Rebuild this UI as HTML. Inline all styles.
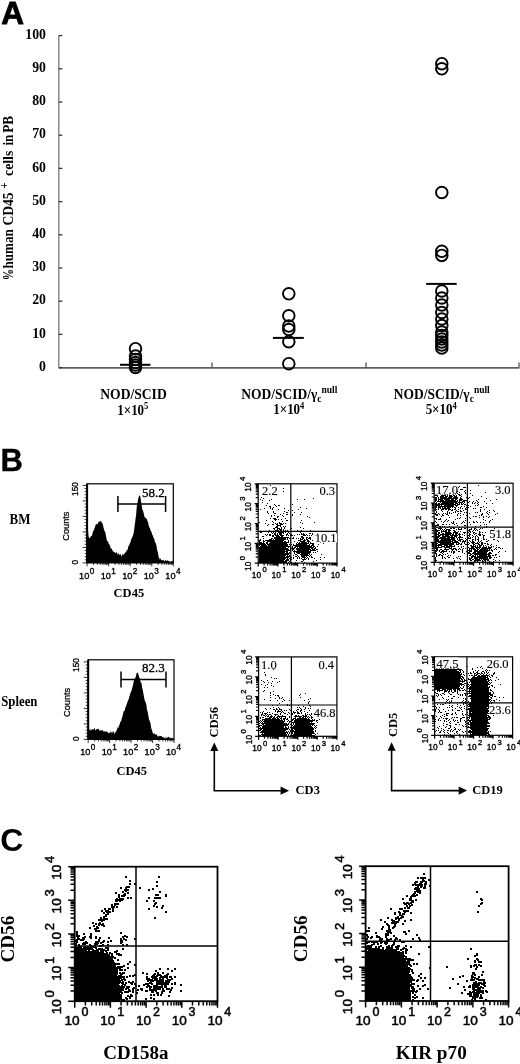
<!DOCTYPE html>
<html><head><meta charset="utf-8"><title>Figure</title>
<style>html,body{margin:0;padding:0;background:#fff;}svg{display:block;}</style></head>
<body><svg width="520" height="1064" viewBox="0 0 520 1064">
<defs><filter id="bl" x="0" y="0" width="1" height="1"><feGaussianBlur stdDeviation="0.4"/></filter></defs>
<rect width="520" height="1064" fill="#fff"/>
<g filter="url(#bl)">
<rect width="520" height="1064" fill="#fff"/>
<text x="1.2" y="24.2" font-family="Liberation Sans" font-size="31.5" font-weight="bold" stroke="#000" stroke-width="0.8" stroke-linejoin="round">A</text>
<line x1="58.8" y1="35.6" x2="58.8" y2="367.6" stroke="#777" stroke-width="1.3"/>
<line x1="58.8" y1="367.90000000000003" x2="519.5" y2="367.90000000000003" stroke="#606060" stroke-width="1.6"/>
<line x1="58.8" y1="367.6" x2="62.3" y2="367.6" stroke="#333" stroke-width="1.3"/>
<text transform="translate(46 370.8) scale(1.0 1.1)" font-family="Liberation Serif" font-size="13.8" font-weight="bold" text-anchor="end" >0</text>
<line x1="58.8" y1="334.4" x2="62.3" y2="334.4" stroke="#333" stroke-width="1.3"/>
<text transform="translate(46 337.6) scale(1.0 1.1)" font-family="Liberation Serif" font-size="13.8" font-weight="bold" text-anchor="end" >10</text>
<line x1="58.8" y1="301.2" x2="62.3" y2="301.2" stroke="#333" stroke-width="1.3"/>
<text transform="translate(46 304.4) scale(1.0 1.1)" font-family="Liberation Serif" font-size="13.8" font-weight="bold" text-anchor="end" >20</text>
<line x1="58.8" y1="268" x2="62.3" y2="268" stroke="#333" stroke-width="1.3"/>
<text transform="translate(46 271.2) scale(1.0 1.1)" font-family="Liberation Serif" font-size="13.8" font-weight="bold" text-anchor="end" >30</text>
<line x1="58.8" y1="234.8" x2="62.3" y2="234.8" stroke="#333" stroke-width="1.3"/>
<text transform="translate(46 238) scale(1.0 1.1)" font-family="Liberation Serif" font-size="13.8" font-weight="bold" text-anchor="end" >40</text>
<line x1="58.8" y1="201.6" x2="62.3" y2="201.6" stroke="#333" stroke-width="1.3"/>
<text transform="translate(46 204.8) scale(1.0 1.1)" font-family="Liberation Serif" font-size="13.8" font-weight="bold" text-anchor="end" >50</text>
<line x1="58.8" y1="168.4" x2="62.3" y2="168.4" stroke="#333" stroke-width="1.3"/>
<text transform="translate(46 171.6) scale(1.0 1.1)" font-family="Liberation Serif" font-size="13.8" font-weight="bold" text-anchor="end" >60</text>
<line x1="58.8" y1="135.2" x2="62.3" y2="135.2" stroke="#333" stroke-width="1.3"/>
<text transform="translate(46 138.4) scale(1.0 1.1)" font-family="Liberation Serif" font-size="13.8" font-weight="bold" text-anchor="end" >70</text>
<line x1="58.8" y1="102" x2="62.3" y2="102" stroke="#333" stroke-width="1.3"/>
<text transform="translate(46 105.2) scale(1.0 1.1)" font-family="Liberation Serif" font-size="13.8" font-weight="bold" text-anchor="end" >80</text>
<line x1="58.8" y1="68.8" x2="62.3" y2="68.8" stroke="#333" stroke-width="1.3"/>
<text transform="translate(46 72) scale(1.0 1.1)" font-family="Liberation Serif" font-size="13.8" font-weight="bold" text-anchor="end" >90</text>
<line x1="58.8" y1="35.6" x2="62.3" y2="35.6" stroke="#333" stroke-width="1.3"/>
<text transform="translate(46 38.8) scale(1.0 1.1)" font-family="Liberation Serif" font-size="13.8" font-weight="bold" text-anchor="end" >100</text>
<line x1="212" y1="367.6" x2="212" y2="362.6" stroke="#444" stroke-width="1.2"/>
<line x1="366" y1="367.6" x2="366" y2="362.6" stroke="#444" stroke-width="1.2"/>
<line x1="519" y1="367.6" x2="519" y2="362.6" stroke="#444" stroke-width="1.2"/>
<circle cx="135.5" cy="348.7" r="5.8" fill="none" stroke="#000" stroke-width="1.9"/>
<circle cx="135.5" cy="356.0" r="5.8" fill="none" stroke="#000" stroke-width="1.9"/>
<circle cx="135.5" cy="359.5" r="5.8" fill="none" stroke="#000" stroke-width="1.9"/>
<circle cx="135.5" cy="362.5" r="5.8" fill="none" stroke="#000" stroke-width="1.9"/>
<circle cx="135.5" cy="365.0" r="5.8" fill="none" stroke="#000" stroke-width="1.9"/>
<circle cx="135.5" cy="367.5" r="5.8" fill="none" stroke="#000" stroke-width="1.9"/>
<circle cx="288.8" cy="293.8" r="5.8" fill="none" stroke="#000" stroke-width="1.9"/>
<circle cx="288.8" cy="315.8" r="5.8" fill="none" stroke="#000" stroke-width="1.9"/>
<circle cx="288.8" cy="326.0" r="5.8" fill="none" stroke="#000" stroke-width="1.9"/>
<circle cx="288.8" cy="329.5" r="5.8" fill="none" stroke="#000" stroke-width="1.9"/>
<circle cx="288.8" cy="341.7" r="5.8" fill="none" stroke="#000" stroke-width="1.9"/>
<circle cx="288.8" cy="363.7" r="5.8" fill="none" stroke="#000" stroke-width="1.9"/>
<circle cx="441.8" cy="63.7" r="5.8" fill="none" stroke="#000" stroke-width="1.9"/>
<circle cx="441.8" cy="68.8" r="5.8" fill="none" stroke="#000" stroke-width="1.9"/>
<circle cx="441.8" cy="192.5" r="5.8" fill="none" stroke="#000" stroke-width="1.9"/>
<circle cx="441.8" cy="251.3" r="5.8" fill="none" stroke="#000" stroke-width="1.9"/>
<circle cx="441.8" cy="255.4" r="5.8" fill="none" stroke="#000" stroke-width="1.9"/>
<circle cx="441.8" cy="291.0" r="5.8" fill="none" stroke="#000" stroke-width="1.9"/>
<circle cx="441.8" cy="298.0" r="5.8" fill="none" stroke="#000" stroke-width="1.9"/>
<circle cx="441.8" cy="305.0" r="5.8" fill="none" stroke="#000" stroke-width="1.9"/>
<circle cx="441.8" cy="312.5" r="5.8" fill="none" stroke="#000" stroke-width="1.9"/>
<circle cx="441.8" cy="319.0" r="5.8" fill="none" stroke="#000" stroke-width="1.9"/>
<circle cx="441.8" cy="325.5" r="5.8" fill="none" stroke="#000" stroke-width="1.9"/>
<circle cx="441.8" cy="332.0" r="5.8" fill="none" stroke="#000" stroke-width="1.9"/>
<circle cx="441.8" cy="335.5" r="5.8" fill="none" stroke="#000" stroke-width="1.9"/>
<circle cx="441.8" cy="339.0" r="5.8" fill="none" stroke="#000" stroke-width="1.9"/>
<circle cx="441.8" cy="342.0" r="5.8" fill="none" stroke="#000" stroke-width="1.9"/>
<circle cx="441.8" cy="345.0" r="5.8" fill="none" stroke="#000" stroke-width="1.9"/>
<circle cx="441.8" cy="348.0" r="5.8" fill="none" stroke="#000" stroke-width="1.9"/>
<line x1="120" y1="364.8" x2="150.4" y2="364.8" stroke="#000" stroke-width="2"/>
<line x1="272.9" y1="337.9" x2="303.8" y2="337.9" stroke="#000" stroke-width="2"/>
<line x1="426.2" y1="283.9" x2="456.7" y2="283.9" stroke="#000" stroke-width="2"/>
<text transform="translate(12.9 280.3) rotate(-90) scale(0.8 1.1)" font-family="Liberation Serif" font-size="14" font-weight="bold">%</text>
<text transform="translate(12.9 268.6) rotate(-90) scale(0.94 1.1)" font-family="Liberation Serif" font-size="14" font-weight="bold">human</text>
<text transform="translate(12.9 225.6) rotate(-90) scale(0.97 1.1)" font-family="Liberation Serif" font-size="14" font-weight="bold">CD45</text>
<text transform="translate(8.100000000000001 188.8) rotate(-90) scale(1 1.1)" font-family="Liberation Serif" font-size="11" font-weight="bold">+</text>
<text transform="translate(12.9 175.9) rotate(-90) scale(0.98 1.1)" font-family="Liberation Serif" font-size="14" font-weight="bold">cells</text>
<text transform="translate(12.9 145.6) rotate(-90) scale(0.95 1.1)" font-family="Liberation Serif" font-size="14" font-weight="bold">in</text>
<text transform="translate(12.9 132.8) rotate(-90) scale(0.95 1.1)" font-family="Liberation Serif" font-size="14" font-weight="bold">PB</text>
<text transform="translate(133.5 398.8) scale(1.0 1.13)" font-family="Liberation Serif" font-size="13.6" font-weight="bold" text-anchor="middle" >NOD/SCID</text>
<text transform="translate(132.8 414.6) scale(1.0 1.15)" font-family="Liberation Serif" font-size="13" font-weight="bold" text-anchor="middle" >1×10<tspan dy="-4.5" font-size="8.5">5</tspan></text>
<text transform="translate(289.3 398.5) scale(1.0 1.13)" font-family="Liberation Serif" font-size="13.5" font-weight="bold" text-anchor="middle" >NOD/SCID/γ<tspan dy="3.5" font-size="9.5">c</tspan><tspan dy="-8.5" font-size="9.5">null</tspan></text>
<text transform="translate(288.8 413.8) scale(1.0 1.15)" font-family="Liberation Serif" font-size="13" font-weight="bold" text-anchor="middle" >1×10<tspan dy="-4.5" font-size="8.5">4</tspan></text>
<text transform="translate(441.7 398.5) scale(1.0 1.13)" font-family="Liberation Serif" font-size="13.5" font-weight="bold" text-anchor="middle" >NOD/SCID/γ<tspan dy="3.5" font-size="9.5">c</tspan><tspan dy="-8.5" font-size="9.5">null</tspan></text>
<text transform="translate(441.2 413.8) scale(1.0 1.15)" font-family="Liberation Serif" font-size="13" font-weight="bold" text-anchor="middle" >5×10<tspan dy="-4.5" font-size="8.5">4</tspan></text>
<text x="0.5" y="471.4" font-family="Liberation Sans" font-size="31" font-weight="bold" stroke="#000" stroke-width="0.4" stroke-linejoin="round">B</text>
<text transform="translate(9.6 524) scale(1.0 1.12)" font-family="Liberation Serif" font-size="13" font-weight="bold" text-anchor="start" >BM</text>
<text transform="translate(1.2 705.5) scale(1.0 1.12)" font-family="Liberation Serif" font-size="12.8" font-weight="bold" text-anchor="start" >Spleen</text>
<path d="M87.1 562.9L87.1 512.7L87.8 526.4L88.5 536.6L89.2 538.3L89.9 538.0L90.6 536.8L91.3 536.1L92.0 535.7L92.7 532.4L93.4 530.7L94.1 529.6L94.8 527.4L95.5 525.2L96.2 523.8L96.9 524.2L97.6 524.4L98.3 522.1L99.0 522.6L99.7 521.1L100.4 521.4L101.1 520.7L101.8 523.1L102.5 523.3L103.2 526.2L103.9 528.9L104.6 531.3L105.3 531.9L106.0 536.3L106.7 539.4L107.4 541.5L108.1 541.5L108.8 543.8L109.5 544.8L110.2 546.2L110.9 548.9L111.6 548.2L112.3 549.9L113.0 551.8L113.7 551.5L114.4 552.2L115.1 552.7L115.8 552.9L116.5 552.1L117.2 553.5L117.9 555.0L118.6 552.6L119.3 554.9L120.0 554.4L120.7 553.9L121.4 556.4L122.1 555.4L122.8 553.8L123.5 554.8L124.2 554.3L124.9 552.7L125.6 552.6L126.3 550.9L127.0 550.2L127.7 549.5L128.4 546.1L129.1 545.5L129.8 543.5L130.5 542.3L131.2 539.2L131.9 537.9L132.6 536.4L133.3 534.6L134.0 531.3L134.7 525.5L135.4 520.0L136.1 514.9L136.8 506.3L137.5 503.0L138.2 498.7L138.9 496.4L139.6 495.3L140.3 496.2L141.0 501.1L141.7 505.6L142.4 509.9L143.1 511.0L143.8 513.8L144.5 517.0L145.2 517.5L145.9 518.3L146.6 518.5L147.3 520.4L148.0 522.1L148.7 525.6L149.4 527.2L150.1 528.7L150.8 531.1L151.5 531.9L152.2 534.8L152.9 535.6L153.6 538.2L154.3 538.8L155.0 542.5L155.7 542.9L156.4 545.2L157.1 549.7L157.8 552.0L158.5 555.9L159.2 559.6L159.9 557.8L160.6 559.0L161.3 560.1L162.0 560.5L162.7 560.0L163.4 560.1L164.1 561.0L164.8 561.0L165.5 559.7L166.2 560.7L166.9 560.9L167.6 560.0L168.3 561.3L169.0 560.4L169.7 562.1L170.4 561.5L171.1 561.5L171.8 561.0L172.5 561.5L173.2 559.9L173.3 562.9Z" fill="#000"/>
<rect x="87.1" y="483.8" width="86.20000000000002" height="79.09999999999997" fill="none" stroke="#000" stroke-width="1.2"/>
<line x1="87.1" y1="483.8" x2="87.1" y2="562.9" stroke="#000" stroke-width="2"/>
<path d="M82.6 562.9H87.1M84.6 559.8H87.1M84.6 556.7H87.1M84.6 553.6H87.1M84.6 550.5H87.1M82.6 547.4H87.1M84.6 544.3H87.1M84.6 541.2H87.1M84.6 538.1H87.1M84.6 535.0H87.1M82.6 531.9H87.1M84.6 528.8H87.1M84.6 525.7H87.1M84.6 522.6H87.1M84.6 519.5H87.1M82.6 516.4H87.1M84.6 513.3H87.1M84.6 510.2H87.1M84.6 507.1H87.1M84.6 504.0H87.1M82.6 500.9H87.1M84.6 497.8H87.1M84.6 494.7H87.1M84.6 491.6H87.1M84.6 488.5H87.1M82.6 485.4H87.1M87.1 562.9V566.4M93.6 562.9V564.9M97.4 562.9V564.9M100.1 562.9V564.9M102.2 562.9V564.9M103.9 562.9V564.9M105.3 562.9V564.9M106.6 562.9V564.9M107.7 562.9V564.9M108.7 562.9V566.4M115.1 562.9V564.9M118.9 562.9V564.9M121.6 562.9V564.9M123.7 562.9V564.9M125.4 562.9V564.9M126.9 562.9V564.9M128.1 562.9V564.9M129.2 562.9V564.9M130.2 562.9V566.4M136.7 562.9V564.9M140.5 562.9V564.9M143.2 562.9V564.9M145.3 562.9V564.9M147.0 562.9V564.9M148.4 562.9V564.9M149.7 562.9V564.9M150.8 562.9V564.9M151.8 562.9V566.4M158.2 562.9V564.9M162.0 562.9V564.9M164.7 562.9V564.9M166.8 562.9V564.9M168.5 562.9V564.9M170.0 562.9V564.9M171.2 562.9V564.9M172.3 562.9V564.9M173.3 562.9V566.4" stroke="#000" stroke-width="0.8" fill="none"/>
<path d="M117.9 504H165.6M117.9 496V512M165.6 496V512" stroke="#000" stroke-width="1.5" fill="none"/>
<text x="164.8" y="496.9" font-family="Liberation Serif" font-size="13" font-weight="normal" text-anchor="end" stroke="#000" stroke-width="0.3">58.2</text>
<text transform="translate(77.5 489.0) rotate(-90) scale(1 1.12)" font-family="Liberation Sans" font-size="8.3" text-anchor="middle" stroke="#000" stroke-width="0.3">150</text>
<text transform="translate(77.5 562.1) rotate(-90) scale(1 1.12)" font-family="Liberation Sans" font-size="8.3" text-anchor="middle" stroke="#000" stroke-width="0.3">0</text>
<text transform="translate(68.8 526.15) rotate(-90)" font-family="Liberation Sans" font-size="9.2" text-anchor="middle" stroke="#000" stroke-width="0.25">Counts</text>
<text x="89.3" y="578.5" font-family="Liberation Sans" font-size="9.2" text-anchor="end" stroke="#000" stroke-width="0.35">10</text>
<text x="89.7" y="573.7" font-family="Liberation Sans" font-size="8.2" stroke="#000" stroke-width="0.35">0</text>
<text x="110.9" y="578.5" font-family="Liberation Sans" font-size="9.2" text-anchor="end" stroke="#000" stroke-width="0.35">10</text>
<text x="111.2" y="573.7" font-family="Liberation Sans" font-size="8.2" stroke="#000" stroke-width="0.35">1</text>
<text x="132.4" y="578.5" font-family="Liberation Sans" font-size="9.2" text-anchor="end" stroke="#000" stroke-width="0.35">10</text>
<text x="132.8" y="573.7" font-family="Liberation Sans" font-size="8.2" stroke="#000" stroke-width="0.35">2</text>
<text x="153.9" y="578.5" font-family="Liberation Sans" font-size="9.2" text-anchor="end" stroke="#000" stroke-width="0.35">10</text>
<text x="154.3" y="573.7" font-family="Liberation Sans" font-size="8.2" stroke="#000" stroke-width="0.35">3</text>
<text x="175.5" y="578.5" font-family="Liberation Sans" font-size="9.2" text-anchor="end" stroke="#000" stroke-width="0.35">10</text>
<text x="175.9" y="573.7" font-family="Liberation Sans" font-size="8.2" stroke="#000" stroke-width="0.35">4</text>
<path d="M88.2 739.4L88.2 730.0L88.9 731.1L89.6 728.6L90.3 731.0L91.0 728.4L91.7 730.4L92.4 728.7L93.1 729.9L93.8 729.1L94.5 727.6L95.2 730.1L95.9 730.3L96.6 728.9L97.3 728.8L98.0 729.2L98.7 728.8L99.4 731.1L100.1 729.9L100.8 730.7L101.5 730.3L102.2 730.4L102.9 729.9L103.6 732.1L104.3 730.9L105.0 731.9L105.7 731.5L106.4 731.3L107.1 732.1L107.8 732.3L108.5 733.3L109.2 733.0L109.9 732.8L110.6 731.6L111.3 731.8L112.0 733.8L112.7 731.4L113.4 731.3L114.1 732.8L114.8 734.0L115.5 731.7L116.2 731.6L116.9 729.7L117.6 727.3L118.3 728.1L119.0 725.8L119.7 724.2L120.4 721.8L121.1 721.3L121.8 718.3L122.5 716.3L123.2 713.1L123.9 710.7L124.6 711.0L125.3 707.5L126.0 706.4L126.7 704.3L127.4 702.2L128.1 700.2L128.8 699.0L129.5 696.0L130.2 693.9L130.9 691.8L131.6 690.5L132.3 687.7L133.0 685.1L133.7 681.8L134.4 678.8L135.1 678.6L135.8 676.4L136.5 673.5L137.2 672.8L137.9 672.7L138.6 675.2L139.3 677.8L140.0 678.8L140.7 682.7L141.4 682.4L142.1 687.4L142.8 690.3L143.5 693.9L144.2 698.1L144.9 701.0L145.6 701.9L146.3 704.6L147.0 710.1L147.7 711.7L148.4 715.9L149.1 719.9L149.8 720.9L150.5 723.3L151.2 727.9L151.9 730.1L152.6 732.2L153.3 734.0L154.0 733.5L154.7 733.3L155.4 734.9L156.1 734.5L156.8 734.2L157.5 736.4L158.2 736.1L158.9 736.7L159.6 735.6L160.3 736.1L161.0 736.0L161.7 736.2L162.4 737.4L163.1 736.6L163.8 737.7L164.5 737.7L165.2 739.3L165.9 736.2L166.6 738.3L167.3 737.5L168.0 737.6L168.7 736.4L169.4 737.3L170.1 738.4L170.8 737.7L171.5 737.9L172.2 737.6L172.9 739.0L173.6 737.9L174.0 739.4Z" fill="#000"/>
<rect x="88.2" y="659.8" width="85.8" height="79.60000000000002" fill="none" stroke="#000" stroke-width="1.2"/>
<line x1="88.2" y1="659.8" x2="88.2" y2="739.4" stroke="#000" stroke-width="2"/>
<path d="M83.7 739.4H88.2M85.7 736.3H88.2M85.7 733.2H88.2M85.7 730.1H88.2M85.7 727.0H88.2M83.7 723.9H88.2M85.7 720.8H88.2M85.7 717.7H88.2M85.7 714.6H88.2M85.7 711.5H88.2M83.7 708.4H88.2M85.7 705.3H88.2M85.7 702.2H88.2M85.7 699.1H88.2M85.7 696.0H88.2M83.7 692.9H88.2M85.7 689.8H88.2M85.7 686.7H88.2M85.7 683.6H88.2M85.7 680.5H88.2M83.7 677.4H88.2M85.7 674.3H88.2M85.7 671.2H88.2M85.7 668.1H88.2M85.7 665.0H88.2M83.7 661.9H88.2M88.2 739.4V742.9M94.7 739.4V741.4M98.4 739.4V741.4M101.1 739.4V741.4M103.2 739.4V741.4M104.9 739.4V741.4M106.3 739.4V741.4M107.6 739.4V741.4M108.7 739.4V741.4M109.7 739.4V742.9M116.1 739.4V741.4M119.9 739.4V741.4M122.6 739.4V741.4M124.6 739.4V741.4M126.3 739.4V741.4M127.8 739.4V741.4M129.0 739.4V741.4M130.1 739.4V741.4M131.1 739.4V742.9M137.6 739.4V741.4M141.3 739.4V741.4M144.0 739.4V741.4M146.1 739.4V741.4M147.8 739.4V741.4M149.2 739.4V741.4M150.5 739.4V741.4M151.6 739.4V741.4M152.6 739.4V742.9M159.0 739.4V741.4M162.8 739.4V741.4M165.5 739.4V741.4M167.5 739.4V741.4M169.2 739.4V741.4M170.7 739.4V741.4M171.9 739.4V741.4M173.0 739.4V741.4M174.0 739.4V742.9" stroke="#000" stroke-width="0.8" fill="none"/>
<path d="M121 679.6H166M121 671.6V687.6M166 671.6V687.6" stroke="#000" stroke-width="1.5" fill="none"/>
<text x="164.8" y="672.3" font-family="Liberation Serif" font-size="13" font-weight="normal" text-anchor="end" stroke="#000" stroke-width="0.3">82.3</text>
<text transform="translate(78.60000000000001 665.0) rotate(-90) scale(1 1.12)" font-family="Liberation Sans" font-size="8.3" text-anchor="middle" stroke="#000" stroke-width="0.3">150</text>
<text transform="translate(78.60000000000001 738.6) rotate(-90) scale(1 1.12)" font-family="Liberation Sans" font-size="8.3" text-anchor="middle" stroke="#000" stroke-width="0.3">0</text>
<text transform="translate(69.9 702.3999999999999) rotate(-90)" font-family="Liberation Sans" font-size="9.2" text-anchor="middle" stroke="#000" stroke-width="0.25">Counts</text>
<text x="90.4" y="755.0" font-family="Liberation Sans" font-size="9.2" text-anchor="end" stroke="#000" stroke-width="0.35">10</text>
<text x="90.8" y="750.2" font-family="Liberation Sans" font-size="8.2" stroke="#000" stroke-width="0.35">0</text>
<text x="111.9" y="755.0" font-family="Liberation Sans" font-size="9.2" text-anchor="end" stroke="#000" stroke-width="0.35">10</text>
<text x="112.2" y="750.2" font-family="Liberation Sans" font-size="8.2" stroke="#000" stroke-width="0.35">1</text>
<text x="133.3" y="755.0" font-family="Liberation Sans" font-size="9.2" text-anchor="end" stroke="#000" stroke-width="0.35">10</text>
<text x="133.7" y="750.2" font-family="Liberation Sans" font-size="8.2" stroke="#000" stroke-width="0.35">2</text>
<text x="154.8" y="755.0" font-family="Liberation Sans" font-size="9.2" text-anchor="end" stroke="#000" stroke-width="0.35">10</text>
<text x="155.2" y="750.2" font-family="Liberation Sans" font-size="8.2" stroke="#000" stroke-width="0.35">3</text>
<text x="176.2" y="755.0" font-family="Liberation Sans" font-size="9.2" text-anchor="end" stroke="#000" stroke-width="0.35">10</text>
<text x="176.6" y="750.2" font-family="Liberation Sans" font-size="8.2" stroke="#000" stroke-width="0.35">4</text>
<text transform="translate(113.6 596.5) scale(1.0 1.08)" font-family="Liberation Serif" font-size="12.5" font-weight="bold" text-anchor="start" >CD45</text>
<text transform="translate(116.5 775) scale(1.0 1.08)" font-family="Liberation Serif" font-size="12.5" font-weight="bold" text-anchor="start" >CD45</text>
<path d="M270 485h1v1h-1zM283 488h1v1h-1zM269 489h1v1h-1zM266 491h1v1h-1zM283 491h1v1h-1zM271 495h1v1h-1zM276 495h1v1h-1zM261 497h1v1h-1zM263 498h1v1h-1zM313 498h1v1h-1zM260 499h1v1h-1zM271 499h1v1h-1zM297 499h1v1h-1zM304 499h1v1h-1zM262 500h1v1h-1zM269 500h1v1h-1zM262 502h1v1h-1zM267 503h1v1h-1zM274 504h1v1h-1zM292 504h1v1h-1zM266 505h1v1h-1zM275 505h1v1h-1zM278 505h2v1h-2zM269 506h2v1h-2zM276 506h1v1h-1zM270 507h1v1h-1zM273 507h1v1h-1zM300 507h1v1h-1zM264 508h1v1h-1zM270 508h1v1h-1zM272 508h1v1h-1zM284 508h1v1h-1zM306 508h1v1h-1zM260 509h1v1h-1zM272 509h1v1h-1zM278 509h1v1h-1zM298 509h1v1h-1zM288 510h1v1h-1zM292 510h1v1h-1zM267 511h1v1h-1zM273 511h1v1h-1zM284 511h1v1h-1zM267 512h1v1h-1zM273 512h1v1h-1zM286 512h2v1h-2zM294 512h1v1h-1zM301 512h1v1h-1zM268 513h1v1h-1zM274 513h2v1h-2zM283 513h1v1h-1zM280 514h1v1h-1zM286 514h2v1h-2zM292 514h1v1h-1zM300 514h1v1h-1zM271 515h1v1h-1zM274 515h1v1h-1zM282 515h1v1h-1zM292 515h1v1h-1zM271 516h1v1h-1zM277 516h2v1h-2zM283 516h1v1h-1zM307 516h1v1h-1zM277 517h1v1h-1zM309 517h1v1h-1zM270 518h1v1h-1zM273 518h3v1h-3zM285 518h1v1h-1zM274 519h3v1h-3zM278 519h1v1h-1zM281 519h1v1h-1zM266 520h1v1h-1zM275 520h1v1h-1zM286 520h2v1h-2zM301 520h1v1h-1zM272 521h1v1h-1zM282 521h1v1h-1zM259 522h1v1h-1zM273 522h1v1h-1zM279 522h1v1h-1zM300 522h1v1h-1zM314 522h1v1h-1zM265 523h1v1h-1zM275 523h1v1h-1zM277 523h1v1h-1zM279 523h3v1h-3zM283 523h1v1h-1zM285 523h1v1h-1zM302 523h1v1h-1zM268 524h1v1h-1zM272 524h2v1h-2zM276 524h2v1h-2zM280 524h3v1h-3zM267 525h1v1h-1zM277 525h4v1h-4zM276 526h2v1h-2zM280 526h1v1h-1zM283 526h1v1h-1zM285 526h1v1h-1zM275 527h3v1h-3zM281 527h1v1h-1zM284 527h1v1h-1zM300 527h1v1h-1zM273 528h2v1h-2zM277 528h3v1h-3zM281 528h1v1h-1zM284 528h1v1h-1zM291 528h1v1h-1zM303 528h1v1h-1zM274 529h1v1h-1zM277 529h1v1h-1zM279 529h3v1h-3zM283 529h1v1h-1zM269 530h1v1h-1zM275 530h4v1h-4zM280 530h2v1h-2zM283 530h1v1h-1zM285 530h1v1h-1zM287 530h1v1h-1zM297 530h1v1h-1zM301 530h1v1h-1zM310 530h1v1h-1zM263 531h1v1h-1zM271 531h1v1h-1zM273 531h2v1h-2zM276 531h1v1h-1zM278 531h4v1h-4zM283 531h2v1h-2zM302 531h1v1h-1zM260 532h2v1h-2zM268 532h1v1h-1zM271 532h1v1h-1zM273 532h1v1h-1zM275 532h1v1h-1zM278 532h6v1h-6zM285 532h1v1h-1zM288 532h1v1h-1zM300 532h1v1h-1zM272 533h1v1h-1zM274 533h2v1h-2zM277 533h1v1h-1zM279 533h3v1h-3zM283 533h1v1h-1zM287 533h1v1h-1zM289 533h1v1h-1zM301 533h1v1h-1zM303 533h1v1h-1zM309 533h2v1h-2zM312 533h1v1h-1zM317 533h1v1h-1zM265 534h1v1h-1zM267 534h1v1h-1zM269 534h2v1h-2zM274 534h2v1h-2zM277 534h1v1h-1zM279 534h3v1h-3zM286 534h2v1h-2zM291 534h1v1h-1zM297 534h1v1h-1zM299 534h1v1h-1zM301 534h4v1h-4zM306 534h1v1h-1zM312 534h1v1h-1zM317 534h1v1h-1zM266 535h1v1h-1zM269 535h2v1h-2zM272 535h2v1h-2zM275 535h4v1h-4zM280 535h4v1h-4zM286 535h1v1h-1zM288 535h1v1h-1zM290 535h3v1h-3zM294 535h1v1h-1zM303 535h3v1h-3zM307 535h1v1h-1zM309 535h1v1h-1zM311 535h1v1h-1zM314 535h1v1h-1zM262 536h2v1h-2zM272 536h2v1h-2zM276 536h4v1h-4zM281 536h2v1h-2zM301 536h2v1h-2zM274 537h15v1h-15zM293 537h1v1h-1zM301 537h3v1h-3zM306 537h2v1h-2zM309 537h2v1h-2zM263 538h1v1h-1zM271 538h2v1h-2zM274 538h12v1h-12zM287 538h1v1h-1zM289 538h2v1h-2zM292 538h2v1h-2zM296 538h1v1h-1zM298 538h1v1h-1zM300 538h1v1h-1zM302 538h2v1h-2zM306 538h1v1h-1zM308 538h3v1h-3zM317 538h1v1h-1zM260 539h1v1h-1zM269 539h3v1h-3zM273 539h1v1h-1zM275 539h11v1h-11zM287 539h1v1h-1zM300 539h3v1h-3zM304 539h1v1h-1zM306 539h2v1h-2zM310 539h1v1h-1zM259 540h2v1h-2zM263 540h1v1h-1zM265 540h19v1h-19zM288 540h1v1h-1zM290 540h1v1h-1zM298 540h3v1h-3zM303 540h3v1h-3zM307 540h2v1h-2zM312 540h1v1h-1zM317 540h1v1h-1zM259 541h1v1h-1zM263 541h2v1h-2zM267 541h16v1h-16zM284 541h2v1h-2zM288 541h1v1h-1zM294 541h1v1h-1zM300 541h5v1h-5zM307 541h3v1h-3zM259 542h3v1h-3zM263 542h1v1h-1zM266 542h2v1h-2zM270 542h19v1h-19zM290 542h1v1h-1zM297 542h1v1h-1zM299 542h1v1h-1zM301 542h6v1h-6zM308 542h1v1h-1zM310 542h1v1h-1zM320 542h1v1h-1zM259 543h6v1h-6zM266 543h2v1h-2zM269 543h18v1h-18zM296 543h1v1h-1zM298 543h11v1h-11zM310 543h4v1h-4zM323 543h1v1h-1zM259 544h7v1h-7zM267 544h21v1h-21zM289 544h1v1h-1zM291 544h1v1h-1zM293 544h1v1h-1zM296 544h11v1h-11zM309 544h1v1h-1zM312 544h2v1h-2zM318 544h1v1h-1zM259 545h1v1h-1zM261 545h6v1h-6zM268 545h20v1h-20zM290 545h1v1h-1zM293 545h17v1h-17zM311 545h3v1h-3zM260 546h30v1h-30zM292 546h1v1h-1zM295 546h17v1h-17zM313 546h2v1h-2zM317 546h1v1h-1zM259 547h27v1h-27zM288 547h1v1h-1zM290 547h1v1h-1zM292 547h1v1h-1zM294 547h2v1h-2zM297 547h1v1h-1zM299 547h15v1h-15zM315 547h1v1h-1zM259 548h29v1h-29zM290 548h5v1h-5zM296 548h14v1h-14zM311 548h2v1h-2zM314 548h2v1h-2zM259 549h30v1h-30zM290 549h1v1h-1zM292 549h2v1h-2zM296 549h15v1h-15zM312 549h3v1h-3zM316 549h2v1h-2zM259 550h26v1h-26zM286 550h5v1h-5zM292 550h1v1h-1zM294 550h1v1h-1zM297 550h12v1h-12zM310 550h6v1h-6zM259 551h29v1h-29zM293 551h18v1h-18zM317 551h1v1h-1zM259 552h26v1h-26zM286 552h2v1h-2zM289 552h1v1h-1zM294 552h1v1h-1zM296 552h15v1h-15zM313 552h1v1h-1zM315 552h1v1h-1zM259 553h32v1h-32zM294 553h1v1h-1zM297 553h3v1h-3zM301 553h9v1h-9zM259 554h30v1h-30zM295 554h2v1h-2zM300 554h8v1h-8zM309 554h1v1h-1zM311 554h1v1h-1zM321 554h1v1h-1zM259 555h27v1h-27zM287 555h1v1h-1zM289 555h1v1h-1zM293 555h1v1h-1zM297 555h1v1h-1zM301 555h8v1h-8zM310 555h1v1h-1zM259 556h26v1h-26zM286 556h4v1h-4zM295 556h2v1h-2zM298 556h1v1h-1zM301 556h4v1h-4zM306 556h1v1h-1zM309 556h1v1h-1zM311 556h1v1h-1zM259 557h30v1h-30zM290 557h2v1h-2zM293 557h1v1h-1zM297 557h1v1h-1zM299 557h1v1h-1zM302 557h4v1h-4zM307 557h1v1h-1zM311 557h2v1h-2zM320 557h1v1h-1zM324 557h1v1h-1zM259 558h27v1h-27zM287 558h1v1h-1zM289 558h1v1h-1zM293 558h1v1h-1zM297 558h1v1h-1zM299 558h1v1h-1zM301 558h1v1h-1zM304 558h1v1h-1zM306 558h1v1h-1zM308 558h1v1h-1zM314 558h1v1h-1zM259 559h26v1h-26zM286 559h3v1h-3zM290 559h2v1h-2zM302 559h4v1h-4zM308 559h1v1h-1zM320 559h1v1h-1zM259 560h25v1h-25zM285 560h4v1h-4zM290 560h1v1h-1zM296 560h1v1h-1zM303 560h1v1h-1zM316 560h1v1h-1zM259 561h28v1h-28zM289 561h1v1h-1zM301 561h2v1h-2zM313 561h1v1h-1zM259 562h28v1h-28zM288 562h1v1h-1zM291 562h1v1h-1zM295 562h1v1h-1zM304 562h1v1h-1z" fill="#000"/>
<path d="M290.8 483.8V563.1M258.2 531.3H337" stroke="#000" stroke-width="1.2" fill="none"/>
<rect x="258.2" y="483.8" width="78.8" height="79.3" fill="none" stroke="#000" stroke-width="1.2"/>
<rect x="261.5" y="486.9" width="16.6" height="9.0" fill="#fff"/>
<text x="262" y="495.4" font-family="Liberation Serif" font-size="12.5" font-weight="normal" text-anchor="start" stroke="#000" stroke-width="0.12">2.2</text>
<rect x="318.9" y="486.9" width="16.6" height="9.0" fill="#fff"/>
<text x="335" y="495.4" font-family="Liberation Serif" font-size="12.5" font-weight="normal" text-anchor="end" stroke="#000" stroke-width="0.12">0.3</text>
<rect x="314.1" y="533.5" width="22.9" height="9.0" fill="#fff"/>
<text x="336.5" y="542" font-family="Liberation Serif" font-size="12.5" font-weight="normal" text-anchor="end" stroke="#000" stroke-width="0.12">10.1</text>
<path d="M258.2 563.1V566.6M254.7 563.1H258.2M264.1 563.1V565.6M255.7 557.1H258.2M267.6 563.1V565.6M255.7 553.6H258.2M270.1 563.1V565.6M255.7 551.2H258.2M272.0 563.1V565.6M255.7 549.2H258.2M273.5 563.1V565.6M255.7 547.7H258.2M274.8 563.1V565.6M255.7 546.3H258.2M276.0 563.1V565.6M255.7 545.2H258.2M277.0 563.1V565.6M255.7 544.2H258.2M277.9 563.1V566.6M254.7 543.3H258.2M283.8 563.1V565.6M255.7 537.3H258.2M287.3 563.1V565.6M255.7 533.8H258.2M289.8 563.1V565.6M255.7 531.3H258.2M291.7 563.1V565.6M255.7 529.4H258.2M293.2 563.1V565.6M255.7 527.8H258.2M294.5 563.1V565.6M255.7 526.5H258.2M295.7 563.1V565.6M255.7 525.4H258.2M296.7 563.1V565.6M255.7 524.4H258.2M297.6 563.1V566.6M254.7 523.5H258.2M303.5 563.1V565.6M255.7 517.5H258.2M307.0 563.1V565.6M255.7 514.0H258.2M309.5 563.1V565.6M255.7 511.5H258.2M311.4 563.1V565.6M255.7 509.6H258.2M312.9 563.1V565.6M255.7 508.0H258.2M314.2 563.1V565.6M255.7 506.7H258.2M315.4 563.1V565.6M255.7 505.5H258.2M316.4 563.1V565.6M255.7 504.5H258.2M317.3 563.1V566.6M254.7 503.6H258.2M323.2 563.1V565.6M255.7 497.7H258.2M326.7 563.1V565.6M255.7 494.2H258.2M329.2 563.1V565.6M255.7 491.7H258.2M331.1 563.1V565.6M255.7 489.8H258.2M332.6 563.1V565.6M255.7 488.2H258.2M333.9 563.1V565.6M255.7 486.9H258.2M335.1 563.1V565.6M255.7 485.7H258.2M336.1 563.1V565.6M255.7 484.7H258.2M337 563.1V566.6M254.7 483.8H258.2" stroke="#000" stroke-width="1.2" fill="none"/>
<text x="261.2" y="577.7" font-family="Liberation Sans" font-size="8.4" text-anchor="end" stroke="#000" stroke-width="0.35">10</text>
<text x="262.6" y="572.4" font-family="Liberation Sans" font-size="7.6" stroke="#000" stroke-width="0.35">0</text>
<text x="280.9" y="577.7" font-family="Liberation Sans" font-size="8.4" text-anchor="end" stroke="#000" stroke-width="0.35">10</text>
<text x="282.3" y="572.4" font-family="Liberation Sans" font-size="7.6" stroke="#000" stroke-width="0.35">1</text>
<text x="300.6" y="577.7" font-family="Liberation Sans" font-size="8.4" text-anchor="end" stroke="#000" stroke-width="0.35">10</text>
<text x="302.0" y="572.4" font-family="Liberation Sans" font-size="7.6" stroke="#000" stroke-width="0.35">2</text>
<text x="320.3" y="577.7" font-family="Liberation Sans" font-size="8.4" text-anchor="end" stroke="#000" stroke-width="0.35">10</text>
<text x="321.7" y="572.4" font-family="Liberation Sans" font-size="7.6" stroke="#000" stroke-width="0.35">3</text>
<text x="340.0" y="577.7" font-family="Liberation Sans" font-size="8.4" text-anchor="end" stroke="#000" stroke-width="0.35">10</text>
<text x="341.4" y="572.4" font-family="Liberation Sans" font-size="7.6" stroke="#000" stroke-width="0.35">4</text>
<text transform="translate(251.2 561.6) rotate(-90)" font-family="Liberation Sans" font-size="8.4" text-anchor="end" stroke="#000" stroke-width="0.35">10</text>
<text transform="translate(245.3 560.2) rotate(-90)" font-family="Liberation Sans" font-size="7.6" stroke="#000" stroke-width="0.35">0</text>
<text transform="translate(251.2 541.8) rotate(-90)" font-family="Liberation Sans" font-size="8.4" text-anchor="end" stroke="#000" stroke-width="0.35">10</text>
<text transform="translate(245.3 540.4) rotate(-90)" font-family="Liberation Sans" font-size="7.6" stroke="#000" stroke-width="0.35">1</text>
<text transform="translate(251.2 522.0) rotate(-90)" font-family="Liberation Sans" font-size="8.4" text-anchor="end" stroke="#000" stroke-width="0.35">10</text>
<text transform="translate(245.3 520.6) rotate(-90)" font-family="Liberation Sans" font-size="7.6" stroke="#000" stroke-width="0.35">2</text>
<text transform="translate(251.2 502.1) rotate(-90)" font-family="Liberation Sans" font-size="8.4" text-anchor="end" stroke="#000" stroke-width="0.35">10</text>
<text transform="translate(245.3 500.7) rotate(-90)" font-family="Liberation Sans" font-size="7.6" stroke="#000" stroke-width="0.35">3</text>
<text transform="translate(251.2 482.3) rotate(-90)" font-family="Liberation Sans" font-size="8.4" text-anchor="end" stroke="#000" stroke-width="0.35">10</text>
<text transform="translate(245.3 480.9) rotate(-90)" font-family="Liberation Sans" font-size="7.6" stroke="#000" stroke-width="0.35">4</text>
<path d="M478 485h1v1h-1zM459 486h1v1h-1zM446 487h1v1h-1zM448 487h1v1h-1zM453 487h2v1h-2zM456 487h1v1h-1zM458 487h1v1h-1zM463 487h3v1h-3zM436 488h1v1h-1zM444 488h1v1h-1zM446 488h2v1h-2zM450 488h1v1h-1zM454 488h1v1h-1zM436 489h1v1h-1zM439 489h1v1h-1zM441 489h1v1h-1zM449 489h1v1h-1zM460 489h3v1h-3zM449 490h1v1h-1zM465 490h1v1h-1zM470 490h1v1h-1zM435 491h2v1h-2zM441 491h1v1h-1zM446 491h1v1h-1zM448 491h3v1h-3zM457 491h1v1h-1zM464 491h1v1h-1zM435 492h2v1h-2zM439 492h1v1h-1zM441 492h1v1h-1zM443 492h3v1h-3zM450 492h2v1h-2zM453 492h1v1h-1zM456 492h1v1h-1zM459 492h1v1h-1zM465 492h1v1h-1zM485 492h1v1h-1zM436 493h2v1h-2zM444 493h1v1h-1zM447 493h1v1h-1zM449 493h1v1h-1zM451 493h1v1h-1zM454 493h4v1h-4zM465 493h1v1h-1zM470 493h1v1h-1zM435 494h2v1h-2zM440 494h1v1h-1zM442 494h1v1h-1zM444 494h4v1h-4zM449 494h1v1h-1zM452 494h2v1h-2zM455 494h1v1h-1zM458 494h2v1h-2zM461 494h1v1h-1zM435 495h3v1h-3zM441 495h5v1h-5zM447 495h1v1h-1zM449 495h3v1h-3zM453 495h2v1h-2zM456 495h1v1h-1zM459 495h2v1h-2zM472 495h1v1h-1zM437 496h1v1h-1zM440 496h4v1h-4zM445 496h3v1h-3zM449 496h4v1h-4zM454 496h3v1h-3zM461 496h1v1h-1zM467 496h1v1h-1zM481 496h1v1h-1zM435 497h2v1h-2zM438 497h1v1h-1zM440 497h7v1h-7zM448 497h4v1h-4zM453 497h5v1h-5zM460 497h1v1h-1zM466 497h1v1h-1zM469 497h1v1h-1zM435 498h2v1h-2zM438 498h1v1h-1zM440 498h18v1h-18zM460 498h2v1h-2zM468 498h1v1h-1zM486 498h1v1h-1zM435 499h2v1h-2zM438 499h5v1h-5zM444 499h6v1h-6zM451 499h3v1h-3zM455 499h2v1h-2zM459 499h4v1h-4zM478 499h1v1h-1zM496 499h1v1h-1zM435 500h2v1h-2zM438 500h1v1h-1zM440 500h4v1h-4zM445 500h11v1h-11zM457 500h1v1h-1zM459 500h3v1h-3zM463 500h4v1h-4zM476 500h1v1h-1zM490 500h1v1h-1zM435 501h1v1h-1zM437 501h21v1h-21zM459 501h1v1h-1zM462 501h3v1h-3zM469 501h1v1h-1zM473 501h1v1h-1zM477 501h1v1h-1zM484 501h1v1h-1zM436 502h1v1h-1zM440 502h1v1h-1zM442 502h15v1h-15zM458 502h5v1h-5zM464 502h1v1h-1zM468 502h1v1h-1zM472 502h1v1h-1zM475 502h1v1h-1zM478 502h1v1h-1zM435 503h2v1h-2zM438 503h2v1h-2zM441 503h13v1h-13zM455 503h3v1h-3zM459 503h1v1h-1zM461 503h1v1h-1zM463 503h1v1h-1zM467 503h1v1h-1zM472 503h1v1h-1zM474 503h1v1h-1zM477 503h1v1h-1zM486 503h1v1h-1zM492 503h1v1h-1zM435 504h21v1h-21zM457 504h3v1h-3zM461 504h2v1h-2zM464 504h2v1h-2zM467 504h1v1h-1zM478 504h1v1h-1zM435 505h5v1h-5zM441 505h1v1h-1zM444 505h10v1h-10zM455 505h3v1h-3zM466 505h1v1h-1zM468 505h1v1h-1zM475 505h1v1h-1zM477 505h1v1h-1zM435 506h2v1h-2zM438 506h16v1h-16zM456 506h1v1h-1zM461 506h1v1h-1zM464 506h1v1h-1zM470 506h1v1h-1zM483 506h1v1h-1zM435 507h2v1h-2zM438 507h3v1h-3zM442 507h1v1h-1zM444 507h2v1h-2zM447 507h4v1h-4zM452 507h1v1h-1zM454 507h2v1h-2zM458 507h1v1h-1zM460 507h1v1h-1zM466 507h3v1h-3zM480 507h2v1h-2zM486 507h1v1h-1zM435 508h1v1h-1zM438 508h1v1h-1zM440 508h1v1h-1zM442 508h8v1h-8zM455 508h1v1h-1zM460 508h1v1h-1zM462 508h1v1h-1zM465 508h1v1h-1zM473 508h1v1h-1zM475 508h1v1h-1zM435 509h2v1h-2zM438 509h1v1h-1zM441 509h3v1h-3zM445 509h2v1h-2zM448 509h3v1h-3zM452 509h1v1h-1zM454 509h2v1h-2zM458 509h1v1h-1zM465 509h2v1h-2zM480 509h1v1h-1zM484 509h1v1h-1zM435 510h1v1h-1zM441 510h1v1h-1zM448 510h1v1h-1zM451 510h2v1h-2zM456 510h1v1h-1zM460 510h1v1h-1zM463 510h1v1h-1zM480 510h1v1h-1zM489 510h1v1h-1zM493 510h1v1h-1zM436 511h1v1h-1zM442 511h1v1h-1zM447 511h1v1h-1zM455 511h1v1h-1zM457 511h2v1h-2zM460 511h2v1h-2zM480 511h1v1h-1zM487 511h1v1h-1zM494 511h1v1h-1zM436 512h1v1h-1zM447 512h1v1h-1zM449 512h1v1h-1zM453 512h1v1h-1zM455 512h1v1h-1zM464 512h1v1h-1zM466 512h1v1h-1zM475 512h1v1h-1zM477 512h1v1h-1zM486 512h1v1h-1zM489 512h1v1h-1zM435 513h1v1h-1zM438 513h1v1h-1zM443 513h1v1h-1zM445 513h1v1h-1zM447 513h1v1h-1zM449 513h1v1h-1zM451 513h1v1h-1zM458 513h1v1h-1zM460 513h1v1h-1zM469 513h1v1h-1zM482 513h1v1h-1zM487 513h1v1h-1zM497 513h1v1h-1zM435 514h3v1h-3zM439 514h1v1h-1zM442 514h1v1h-1zM446 514h2v1h-2zM457 514h1v1h-1zM463 514h1v1h-1zM481 514h2v1h-2zM488 514h1v1h-1zM495 514h1v1h-1zM436 515h2v1h-2zM442 515h2v1h-2zM448 515h1v1h-1zM457 515h1v1h-1zM460 515h1v1h-1zM466 515h1v1h-1zM479 515h1v1h-1zM481 515h1v1h-1zM441 516h1v1h-1zM473 516h1v1h-1zM475 516h2v1h-2zM483 516h1v1h-1zM486 516h1v1h-1zM489 516h1v1h-1zM449 517h1v1h-1zM460 517h1v1h-1zM469 517h1v1h-1zM479 517h1v1h-1zM483 517h1v1h-1zM488 517h1v1h-1zM435 518h2v1h-2zM440 518h1v1h-1zM457 518h1v1h-1zM459 518h1v1h-1zM465 518h1v1h-1zM470 518h1v1h-1zM436 519h1v1h-1zM438 519h3v1h-3zM446 519h1v1h-1zM455 519h1v1h-1zM483 519h1v1h-1zM492 519h1v1h-1zM445 520h1v1h-1zM448 520h1v1h-1zM465 520h1v1h-1zM485 520h1v1h-1zM490 520h1v1h-1zM435 521h1v1h-1zM441 521h1v1h-1zM444 521h1v1h-1zM447 521h1v1h-1zM453 521h1v1h-1zM463 521h1v1h-1zM473 521h1v1h-1zM476 521h1v1h-1zM489 521h1v1h-1zM436 522h1v1h-1zM443 522h1v1h-1zM451 522h1v1h-1zM453 522h1v1h-1zM462 522h1v1h-1zM464 522h1v1h-1zM469 522h1v1h-1zM473 522h2v1h-2zM477 522h1v1h-1zM480 522h1v1h-1zM483 522h1v1h-1zM489 522h1v1h-1zM452 523h2v1h-2zM456 523h1v1h-1zM461 523h1v1h-1zM437 524h2v1h-2zM442 524h2v1h-2zM446 524h1v1h-1zM449 524h1v1h-1zM454 524h1v1h-1zM470 524h1v1h-1zM484 524h1v1h-1zM486 524h1v1h-1zM435 525h4v1h-4zM457 525h1v1h-1zM464 525h2v1h-2zM480 525h1v1h-1zM435 526h1v1h-1zM439 526h2v1h-2zM442 526h1v1h-1zM444 526h1v1h-1zM449 526h1v1h-1zM475 526h1v1h-1zM486 526h1v1h-1zM436 527h1v1h-1zM440 527h1v1h-1zM447 527h1v1h-1zM452 527h2v1h-2zM459 527h1v1h-1zM484 527h1v1h-1zM486 527h1v1h-1zM435 528h1v1h-1zM438 528h4v1h-4zM445 528h1v1h-1zM450 528h2v1h-2zM453 528h2v1h-2zM458 528h1v1h-1zM461 528h1v1h-1zM464 528h2v1h-2zM471 528h1v1h-1zM474 528h2v1h-2zM480 528h1v1h-1zM482 528h1v1h-1zM494 528h1v1h-1zM435 529h2v1h-2zM440 529h1v1h-1zM442 529h1v1h-1zM444 529h1v1h-1zM446 529h4v1h-4zM456 529h1v1h-1zM458 529h4v1h-4zM469 529h3v1h-3zM474 529h1v1h-1zM476 529h1v1h-1zM479 529h1v1h-1zM435 530h5v1h-5zM441 530h1v1h-1zM443 530h1v1h-1zM445 530h2v1h-2zM448 530h3v1h-3zM453 530h2v1h-2zM468 530h2v1h-2zM473 530h1v1h-1zM475 530h1v1h-1zM477 530h1v1h-1zM486 530h2v1h-2zM496 530h1v1h-1zM435 531h3v1h-3zM441 531h6v1h-6zM448 531h2v1h-2zM454 531h2v1h-2zM458 531h1v1h-1zM460 531h1v1h-1zM469 531h2v1h-2zM472 531h1v1h-1zM479 531h1v1h-1zM489 531h1v1h-1zM497 531h1v1h-1zM435 532h2v1h-2zM438 532h2v1h-2zM441 532h1v1h-1zM445 532h6v1h-6zM453 532h5v1h-5zM463 532h3v1h-3zM468 532h1v1h-1zM470 532h1v1h-1zM473 532h2v1h-2zM479 532h2v1h-2zM482 532h1v1h-1zM485 532h1v1h-1zM435 533h2v1h-2zM438 533h2v1h-2zM442 533h2v1h-2zM445 533h7v1h-7zM453 533h1v1h-1zM455 533h3v1h-3zM459 533h1v1h-1zM464 533h1v1h-1zM469 533h1v1h-1zM473 533h1v1h-1zM475 533h2v1h-2zM479 533h1v1h-1zM435 534h4v1h-4zM440 534h11v1h-11zM452 534h2v1h-2zM455 534h2v1h-2zM458 534h3v1h-3zM462 534h1v1h-1zM469 534h2v1h-2zM474 534h1v1h-1zM478 534h3v1h-3zM482 534h1v1h-1zM435 535h2v1h-2zM438 535h3v1h-3zM442 535h2v1h-2zM445 535h4v1h-4zM450 535h8v1h-8zM459 535h1v1h-1zM464 535h1v1h-1zM468 535h2v1h-2zM472 535h1v1h-1zM476 535h1v1h-1zM479 535h2v1h-2zM483 535h2v1h-2zM486 535h1v1h-1zM435 536h5v1h-5zM442 536h8v1h-8zM451 536h2v1h-2zM454 536h3v1h-3zM459 536h2v1h-2zM469 536h1v1h-1zM473 536h1v1h-1zM475 536h1v1h-1zM477 536h1v1h-1zM483 536h1v1h-1zM490 536h1v1h-1zM435 537h4v1h-4zM440 537h6v1h-6zM447 537h8v1h-8zM456 537h1v1h-1zM458 537h5v1h-5zM467 537h2v1h-2zM470 537h1v1h-1zM472 537h1v1h-1zM475 537h1v1h-1zM478 537h1v1h-1zM483 537h1v1h-1zM493 537h1v1h-1zM495 537h1v1h-1zM498 537h1v1h-1zM435 538h3v1h-3zM439 538h11v1h-11zM451 538h4v1h-4zM457 538h1v1h-1zM459 538h1v1h-1zM465 538h1v1h-1zM468 538h3v1h-3zM475 538h1v1h-1zM478 538h1v1h-1zM483 538h1v1h-1zM435 539h4v1h-4zM441 539h14v1h-14zM457 539h1v1h-1zM459 539h4v1h-4zM466 539h2v1h-2zM472 539h2v1h-2zM475 539h1v1h-1zM477 539h2v1h-2zM483 539h2v1h-2zM486 539h1v1h-1zM493 539h2v1h-2zM435 540h4v1h-4zM440 540h11v1h-11zM452 540h4v1h-4zM458 540h3v1h-3zM463 540h1v1h-1zM465 540h1v1h-1zM469 540h1v1h-1zM472 540h1v1h-1zM475 540h1v1h-1zM478 540h1v1h-1zM481 540h1v1h-1zM488 540h1v1h-1zM497 540h1v1h-1zM435 541h18v1h-18zM454 541h4v1h-4zM460 541h1v1h-1zM462 541h4v1h-4zM470 541h1v1h-1zM472 541h2v1h-2zM478 541h1v1h-1zM480 541h1v1h-1zM486 541h2v1h-2zM498 541h1v1h-1zM435 542h2v1h-2zM438 542h13v1h-13zM452 542h7v1h-7zM462 542h1v1h-1zM464 542h1v1h-1zM468 542h1v1h-1zM471 542h4v1h-4zM477 542h1v1h-1zM479 542h1v1h-1zM481 542h2v1h-2zM435 543h3v1h-3zM440 543h14v1h-14zM456 543h1v1h-1zM458 543h2v1h-2zM461 543h1v1h-1zM464 543h1v1h-1zM469 543h1v1h-1zM472 543h2v1h-2zM475 543h4v1h-4zM481 543h2v1h-2zM484 543h2v1h-2zM487 543h1v1h-1zM435 544h2v1h-2zM438 544h16v1h-16zM456 544h3v1h-3zM460 544h2v1h-2zM465 544h2v1h-2zM468 544h1v1h-1zM473 544h2v1h-2zM478 544h2v1h-2zM481 544h2v1h-2zM487 544h2v1h-2zM491 544h1v1h-1zM435 545h7v1h-7zM444 545h4v1h-4zM449 545h3v1h-3zM454 545h1v1h-1zM467 545h1v1h-1zM470 545h2v1h-2zM473 545h1v1h-1zM475 545h1v1h-1zM477 545h1v1h-1zM479 545h3v1h-3zM483 545h1v1h-1zM485 545h1v1h-1zM490 545h1v1h-1zM496 545h1v1h-1zM435 546h2v1h-2zM438 546h1v1h-1zM441 546h4v1h-4zM446 546h9v1h-9zM458 546h1v1h-1zM461 546h1v1h-1zM463 546h1v1h-1zM471 546h5v1h-5zM477 546h1v1h-1zM479 546h2v1h-2zM483 546h1v1h-1zM486 546h1v1h-1zM488 546h1v1h-1zM491 546h1v1h-1zM493 546h1v1h-1zM435 547h7v1h-7zM444 547h6v1h-6zM451 547h1v1h-1zM461 547h1v1h-1zM468 547h1v1h-1zM471 547h3v1h-3zM475 547h6v1h-6zM482 547h5v1h-5zM488 547h4v1h-4zM496 547h1v1h-1zM498 547h2v1h-2zM435 548h3v1h-3zM445 548h1v1h-1zM449 548h3v1h-3zM453 548h3v1h-3zM459 548h1v1h-1zM463 548h1v1h-1zM465 548h1v1h-1zM467 548h1v1h-1zM469 548h6v1h-6zM476 548h2v1h-2zM479 548h1v1h-1zM481 548h10v1h-10zM495 548h1v1h-1zM500 548h1v1h-1zM502 548h1v1h-1zM436 549h2v1h-2zM440 549h2v1h-2zM444 549h5v1h-5zM451 549h3v1h-3zM455 549h2v1h-2zM458 549h1v1h-1zM460 549h1v1h-1zM462 549h1v1h-1zM469 549h1v1h-1zM471 549h1v1h-1zM473 549h3v1h-3zM477 549h2v1h-2zM480 549h8v1h-8zM489 549h1v1h-1zM491 549h1v1h-1zM494 549h1v1h-1zM496 549h1v1h-1zM435 550h3v1h-3zM439 550h1v1h-1zM442 550h2v1h-2zM446 550h1v1h-1zM452 550h1v1h-1zM456 550h1v1h-1zM462 550h1v1h-1zM467 550h5v1h-5zM474 550h4v1h-4zM479 550h11v1h-11zM491 550h2v1h-2zM435 551h2v1h-2zM439 551h1v1h-1zM441 551h6v1h-6zM449 551h1v1h-1zM451 551h1v1h-1zM453 551h2v1h-2zM458 551h2v1h-2zM462 551h1v1h-1zM466 551h1v1h-1zM469 551h3v1h-3zM474 551h14v1h-14zM492 551h1v1h-1zM499 551h1v1h-1zM505 551h1v1h-1zM435 552h1v1h-1zM440 552h2v1h-2zM443 552h1v1h-1zM451 552h1v1h-1zM453 552h2v1h-2zM462 552h1v1h-1zM468 552h2v1h-2zM473 552h3v1h-3zM477 552h10v1h-10zM489 552h2v1h-2zM498 552h1v1h-1zM435 553h2v1h-2zM442 553h1v1h-1zM447 553h1v1h-1zM453 553h1v1h-1zM464 553h1v1h-1zM468 553h3v1h-3zM472 553h15v1h-15zM488 553h4v1h-4zM436 554h1v1h-1zM439 554h2v1h-2zM443 554h1v1h-1zM445 554h1v1h-1zM470 554h2v1h-2zM474 554h16v1h-16zM495 554h2v1h-2zM436 555h1v1h-1zM438 555h2v1h-2zM441 555h2v1h-2zM448 555h1v1h-1zM450 555h1v1h-1zM467 555h1v1h-1zM469 555h2v1h-2zM472 555h2v1h-2zM475 555h1v1h-1zM477 555h1v1h-1zM479 555h8v1h-8zM488 555h3v1h-3zM492 555h2v1h-2zM495 555h1v1h-1zM436 556h1v1h-1zM442 556h1v1h-1zM447 556h1v1h-1zM458 556h1v1h-1zM460 556h1v1h-1zM471 556h5v1h-5zM477 556h14v1h-14zM499 556h1v1h-1zM435 557h1v1h-1zM442 557h1v1h-1zM444 557h1v1h-1zM448 557h2v1h-2zM456 557h1v1h-1zM469 557h1v1h-1zM471 557h2v1h-2zM474 557h14v1h-14zM489 557h3v1h-3zM494 557h1v1h-1zM496 557h1v1h-1zM435 558h1v1h-1zM442 558h1v1h-1zM445 558h1v1h-1zM453 558h1v1h-1zM457 558h1v1h-1zM459 558h1v1h-1zM469 558h3v1h-3zM474 558h4v1h-4zM479 558h9v1h-9zM489 558h2v1h-2zM435 559h1v1h-1zM460 559h1v1h-1zM469 559h2v1h-2zM472 559h2v1h-2zM475 559h5v1h-5zM481 559h1v1h-1zM483 559h6v1h-6zM493 559h1v1h-1zM435 560h2v1h-2zM454 560h1v1h-1zM470 560h2v1h-2zM474 560h7v1h-7zM482 560h1v1h-1zM484 560h2v1h-2zM487 560h2v1h-2zM495 560h1v1h-1zM499 560h1v1h-1zM435 561h1v1h-1zM441 561h1v1h-1zM454 561h1v1h-1zM474 561h2v1h-2zM477 561h1v1h-1zM482 561h2v1h-2zM485 561h1v1h-1zM489 561h1v1h-1zM493 561h1v1h-1z" fill="#000"/>
<path d="M467.4 483.2V562.3M434.2 527.2H513.1" stroke="#000" stroke-width="1.2" fill="none"/>
<rect x="434.2" y="483.2" width="78.9" height="79.1" fill="none" stroke="#000" stroke-width="1.2"/>
<rect x="435" y="484.5" width="22" height="10" fill="#fff"/>
<text x="436" y="493.5" font-family="Liberation Serif" font-size="12.5" font-weight="normal" text-anchor="start" stroke="#000" stroke-width="0.12">17.0</text>
<rect x="494.4" y="485.0" width="16.6" height="9.0" fill="#fff"/>
<text x="510.5" y="493.5" font-family="Liberation Serif" font-size="12.5" font-weight="normal" text-anchor="end" stroke="#000" stroke-width="0.12">3.0</text>
<rect x="486" y="529" width="25" height="10" fill="#fff"/>
<text x="511" y="538" font-family="Liberation Serif" font-size="12.5" font-weight="normal" text-anchor="end" stroke="#000" stroke-width="0.12">51.8</text>
<path d="M434.2 562.3V565.8M430.7 562.3H434.2M440.1 562.3V564.8M431.7 556.3H434.2M443.6 562.3V564.8M431.7 552.9H434.2M446.1 562.3V564.8M431.7 550.4H434.2M448.0 562.3V564.8M431.7 548.5H434.2M449.5 562.3V564.8M431.7 546.9H434.2M450.9 562.3V564.8M431.7 545.6H434.2M452.0 562.3V564.8M431.7 544.4H434.2M453.0 562.3V564.8M431.7 543.4H434.2M453.9 562.3V565.8M430.7 542.5H434.2M459.9 562.3V564.8M431.7 536.6H434.2M463.3 562.3V564.8M431.7 533.1H434.2M465.8 562.3V564.8M431.7 530.6H434.2M467.7 562.3V564.8M431.7 528.7H434.2M469.3 562.3V564.8M431.7 527.1H434.2M470.6 562.3V564.8M431.7 525.8H434.2M471.7 562.3V564.8M431.7 524.7H434.2M472.7 562.3V564.8M431.7 523.7H434.2M473.6 562.3V565.8M430.7 522.8H434.2M479.6 562.3V564.8M431.7 516.8H434.2M483.1 562.3V564.8M431.7 513.3H434.2M485.5 562.3V564.8M431.7 510.8H434.2M487.4 562.3V564.8M431.7 508.9H434.2M489.0 562.3V564.8M431.7 507.4H434.2M490.3 562.3V564.8M431.7 506.0H434.2M491.5 562.3V564.8M431.7 504.9H434.2M492.5 562.3V564.8M431.7 503.9H434.2M493.4 562.3V565.8M430.7 503.0H434.2M499.3 562.3V564.8M431.7 497.0H434.2M502.8 562.3V564.8M431.7 493.5H434.2M505.3 562.3V564.8M431.7 491.1H434.2M507.2 562.3V564.8M431.7 489.2H434.2M508.7 562.3V564.8M431.7 487.6H434.2M510.0 562.3V564.8M431.7 486.3H434.2M511.2 562.3V564.8M431.7 485.1H434.2M512.2 562.3V564.8M431.7 484.1H434.2M513.1 562.3V565.8M430.7 483.2H434.2" stroke="#000" stroke-width="1.2" fill="none"/>
<text x="437.2" y="576.9" font-family="Liberation Sans" font-size="8.4" text-anchor="end" stroke="#000" stroke-width="0.35">10</text>
<text x="438.6" y="571.6" font-family="Liberation Sans" font-size="7.6" stroke="#000" stroke-width="0.35">0</text>
<text x="456.9" y="576.9" font-family="Liberation Sans" font-size="8.4" text-anchor="end" stroke="#000" stroke-width="0.35">10</text>
<text x="458.3" y="571.6" font-family="Liberation Sans" font-size="7.6" stroke="#000" stroke-width="0.35">1</text>
<text x="476.6" y="576.9" font-family="Liberation Sans" font-size="8.4" text-anchor="end" stroke="#000" stroke-width="0.35">10</text>
<text x="478.0" y="571.6" font-family="Liberation Sans" font-size="7.6" stroke="#000" stroke-width="0.35">2</text>
<text x="496.4" y="576.9" font-family="Liberation Sans" font-size="8.4" text-anchor="end" stroke="#000" stroke-width="0.35">10</text>
<text x="497.8" y="571.6" font-family="Liberation Sans" font-size="7.6" stroke="#000" stroke-width="0.35">3</text>
<text x="516.1" y="576.9" font-family="Liberation Sans" font-size="8.4" text-anchor="end" stroke="#000" stroke-width="0.35">10</text>
<text x="517.5" y="571.6" font-family="Liberation Sans" font-size="7.6" stroke="#000" stroke-width="0.35">4</text>
<text transform="translate(427.2 560.8) rotate(-90)" font-family="Liberation Sans" font-size="8.4" text-anchor="end" stroke="#000" stroke-width="0.35">10</text>
<text transform="translate(421.3 559.4) rotate(-90)" font-family="Liberation Sans" font-size="7.6" stroke="#000" stroke-width="0.35">0</text>
<text transform="translate(427.2 541.0) rotate(-90)" font-family="Liberation Sans" font-size="8.4" text-anchor="end" stroke="#000" stroke-width="0.35">10</text>
<text transform="translate(421.3 539.6) rotate(-90)" font-family="Liberation Sans" font-size="7.6" stroke="#000" stroke-width="0.35">1</text>
<text transform="translate(427.2 521.2) rotate(-90)" font-family="Liberation Sans" font-size="8.4" text-anchor="end" stroke="#000" stroke-width="0.35">10</text>
<text transform="translate(421.3 519.9) rotate(-90)" font-family="Liberation Sans" font-size="7.6" stroke="#000" stroke-width="0.35">2</text>
<text transform="translate(427.2 501.5) rotate(-90)" font-family="Liberation Sans" font-size="8.4" text-anchor="end" stroke="#000" stroke-width="0.35">10</text>
<text transform="translate(421.3 500.1) rotate(-90)" font-family="Liberation Sans" font-size="7.6" stroke="#000" stroke-width="0.35">3</text>
<text transform="translate(427.2 481.7) rotate(-90)" font-family="Liberation Sans" font-size="8.4" text-anchor="end" stroke="#000" stroke-width="0.35">10</text>
<text transform="translate(421.3 480.3) rotate(-90)" font-family="Liberation Sans" font-size="7.6" stroke="#000" stroke-width="0.35">4</text>
<path d="M273 669h1v1h-1zM264 672h1v1h-1zM265 674h1v1h-1zM265 675h1v1h-1zM271 677h1v1h-1zM274 678h1v1h-1zM276 678h1v1h-1zM261 680h1v1h-1zM267 680h1v1h-1zM263 681h1v1h-1zM272 681h1v1h-1zM279 681h1v1h-1zM264 682h1v1h-1zM268 682h1v1h-1zM277 682h1v1h-1zM271 683h1v1h-1zM261 684h1v1h-1zM267 684h1v1h-1zM265 685h1v1h-1zM271 685h1v1h-1zM273 686h1v1h-1zM264 687h1v1h-1zM267 687h1v1h-1zM264 690h1v1h-1zM263 691h1v1h-1zM273 691h1v1h-1zM270 692h1v1h-1zM270 693h1v1h-1zM305 693h1v1h-1zM273 694h1v1h-1zM300 694h1v1h-1zM270 695h1v1h-1zM275 695h1v1h-1zM277 695h2v1h-2zM299 695h1v1h-1zM278 696h1v1h-1zM270 697h1v1h-1zM279 697h1v1h-1zM282 697h1v1h-1zM300 697h1v1h-1zM275 698h1v1h-1zM279 698h1v1h-1zM281 698h1v1h-1zM310 698h1v1h-1zM264 699h1v1h-1zM283 699h1v1h-1zM308 699h1v1h-1zM270 700h1v1h-1zM277 700h1v1h-1zM284 700h1v1h-1zM289 700h1v1h-1zM304 700h1v1h-1zM282 701h1v1h-1zM309 701h1v1h-1zM308 702h1v1h-1zM279 703h1v1h-1zM308 703h1v1h-1zM287 704h1v1h-1zM272 705h1v1h-1zM277 705h1v1h-1zM287 705h1v1h-1zM289 705h1v1h-1zM298 705h1v1h-1zM309 705h1v1h-1zM303 706h1v1h-1zM310 706h1v1h-1zM273 707h1v1h-1zM278 707h1v1h-1zM297 707h1v1h-1zM299 707h1v1h-1zM305 707h1v1h-1zM265 708h1v1h-1zM270 708h1v1h-1zM276 708h1v1h-1zM279 708h1v1h-1zM300 708h1v1h-1zM305 708h1v1h-1zM308 708h1v1h-1zM310 708h1v1h-1zM266 709h1v1h-1zM273 709h2v1h-2zM276 709h2v1h-2zM279 709h3v1h-3zM289 709h1v1h-1zM291 709h1v1h-1zM297 709h2v1h-2zM301 709h1v1h-1zM304 709h1v1h-1zM275 710h1v1h-1zM278 710h1v1h-1zM281 710h1v1h-1zM284 710h1v1h-1zM286 710h1v1h-1zM290 710h2v1h-2zM296 710h1v1h-1zM300 710h2v1h-2zM309 710h1v1h-1zM263 711h1v1h-1zM275 711h1v1h-1zM277 711h4v1h-4zM282 711h1v1h-1zM291 711h1v1h-1zM293 711h1v1h-1zM297 711h1v1h-1zM300 711h1v1h-1zM304 711h1v1h-1zM317 711h1v1h-1zM260 712h1v1h-1zM262 712h1v1h-1zM267 712h1v1h-1zM269 712h1v1h-1zM277 712h1v1h-1zM281 712h1v1h-1zM283 712h1v1h-1zM288 712h1v1h-1zM293 712h3v1h-3zM297 712h2v1h-2zM301 712h1v1h-1zM307 712h1v1h-1zM262 713h1v1h-1zM264 713h3v1h-3zM272 713h1v1h-1zM280 713h1v1h-1zM284 713h2v1h-2zM289 713h1v1h-1zM292 713h1v1h-1zM294 713h1v1h-1zM297 713h3v1h-3zM301 713h1v1h-1zM305 713h1v1h-1zM311 713h1v1h-1zM261 714h2v1h-2zM265 714h1v1h-1zM267 714h1v1h-1zM269 714h2v1h-2zM274 714h4v1h-4zM280 714h1v1h-1zM287 714h1v1h-1zM292 714h1v1h-1zM305 714h1v1h-1zM307 714h1v1h-1zM309 714h1v1h-1zM311 714h1v1h-1zM315 714h1v1h-1zM261 715h1v1h-1zM263 715h2v1h-2zM266 715h1v1h-1zM268 715h1v1h-1zM271 715h1v1h-1zM275 715h1v1h-1zM278 715h1v1h-1zM282 715h1v1h-1zM295 715h2v1h-2zM298 715h1v1h-1zM302 715h2v1h-2zM305 715h2v1h-2zM310 715h1v1h-1zM265 716h1v1h-1zM267 716h2v1h-2zM270 716h3v1h-3zM274 716h1v1h-1zM277 716h9v1h-9zM289 716h1v1h-1zM294 716h8v1h-8zM303 716h4v1h-4zM308 716h1v1h-1zM311 716h1v1h-1zM313 716h1v1h-1zM260 717h1v1h-1zM262 717h2v1h-2zM269 717h3v1h-3zM273 717h2v1h-2zM276 717h2v1h-2zM279 717h1v1h-1zM281 717h1v1h-1zM285 717h1v1h-1zM289 717h1v1h-1zM295 717h1v1h-1zM299 717h2v1h-2zM302 717h2v1h-2zM305 717h1v1h-1zM307 717h1v1h-1zM309 717h1v1h-1zM311 717h2v1h-2zM260 718h1v1h-1zM265 718h6v1h-6zM272 718h4v1h-4zM277 718h2v1h-2zM280 718h2v1h-2zM283 718h3v1h-3zM287 718h1v1h-1zM291 718h1v1h-1zM293 718h3v1h-3zM297 718h10v1h-10zM308 718h1v1h-1zM311 718h1v1h-1zM262 719h18v1h-18zM281 719h1v1h-1zM283 719h2v1h-2zM286 719h2v1h-2zM291 719h3v1h-3zM295 719h15v1h-15zM312 719h1v1h-1zM314 719h1v1h-1zM319 719h1v1h-1zM260 720h1v1h-1zM262 720h1v1h-1zM264 720h19v1h-19zM284 720h1v1h-1zM288 720h1v1h-1zM292 720h1v1h-1zM294 720h21v1h-21zM316 720h2v1h-2zM259 721h1v1h-1zM261 721h1v1h-1zM263 721h22v1h-22zM287 721h1v1h-1zM289 721h2v1h-2zM294 721h19v1h-19zM316 721h1v1h-1zM260 722h1v1h-1zM262 722h1v1h-1zM264 722h20v1h-20zM289 722h1v1h-1zM291 722h19v1h-19zM311 722h1v1h-1zM317 722h1v1h-1zM259 723h1v1h-1zM261 723h26v1h-26zM288 723h1v1h-1zM293 723h1v1h-1zM295 723h20v1h-20zM262 724h2v1h-2zM265 724h24v1h-24zM290 724h1v1h-1zM293 724h1v1h-1zM295 724h19v1h-19zM259 725h3v1h-3zM263 725h25v1h-25zM291 725h2v1h-2zM294 725h17v1h-17zM312 725h1v1h-1zM314 725h1v1h-1zM316 725h1v1h-1zM259 726h1v1h-1zM262 726h22v1h-22zM285 726h1v1h-1zM288 726h1v1h-1zM293 726h19v1h-19zM315 726h1v1h-1zM260 727h1v1h-1zM262 727h22v1h-22zM285 727h2v1h-2zM288 727h1v1h-1zM290 727h1v1h-1zM292 727h21v1h-21zM314 727h1v1h-1zM316 727h1v1h-1zM259 728h30v1h-30zM291 728h23v1h-23zM315 728h1v1h-1zM260 729h2v1h-2zM263 729h25v1h-25zM289 729h1v1h-1zM292 729h1v1h-1zM294 729h20v1h-20zM259 730h2v1h-2zM262 730h24v1h-24zM290 730h1v1h-1zM292 730h2v1h-2zM295 730h18v1h-18zM315 730h1v1h-1zM261 731h24v1h-24zM286 731h1v1h-1zM288 731h1v1h-1zM290 731h1v1h-1zM292 731h22v1h-22zM315 731h1v1h-1zM260 732h28v1h-28zM289 732h1v1h-1zM292 732h1v1h-1zM294 732h20v1h-20zM262 733h1v1h-1zM264 733h22v1h-22zM287 733h1v1h-1zM289 733h1v1h-1zM291 733h2v1h-2zM294 733h21v1h-21zM317 733h1v1h-1zM261 734h26v1h-26zM288 734h1v1h-1zM293 734h19v1h-19zM315 734h1v1h-1zM259 735h2v1h-2zM262 735h25v1h-25zM288 735h1v1h-1zM290 735h25v1h-25z" fill="#000"/>
<path d="M291.4 656.9V736.3M258.6 705H336.9" stroke="#000" stroke-width="1.2" fill="none"/>
<rect x="258.6" y="656.9" width="78.3" height="79.4" fill="none" stroke="#000" stroke-width="1.2"/>
<rect x="260.5" y="660.1" width="16.6" height="9.0" fill="#fff"/>
<text x="261" y="668.6" font-family="Liberation Serif" font-size="12.5" font-weight="normal" text-anchor="start" stroke="#000" stroke-width="0.12">1.0</text>
<rect x="317.9" y="660.1" width="16.6" height="9.0" fill="#fff"/>
<text x="334" y="668.6" font-family="Liberation Serif" font-size="12.5" font-weight="normal" text-anchor="end" stroke="#000" stroke-width="0.12">0.4</text>
<rect x="313.1" y="708.7" width="22.9" height="9.0" fill="#fff"/>
<text x="335.5" y="717.2" font-family="Liberation Serif" font-size="12.5" font-weight="normal" text-anchor="end" stroke="#000" stroke-width="0.12">46.8</text>
<path d="M258.6 736.3V739.8M255.10000000000002 736.3H258.6M264.5 736.3V738.8M256.1 730.3H258.6M267.9 736.3V738.8M256.1 726.8H258.6M270.4 736.3V738.8M256.1 724.3H258.6M272.3 736.3V738.8M256.1 722.4H258.6M273.8 736.3V738.8M256.1 720.9H258.6M275.1 736.3V738.8M256.1 719.5H258.6M276.3 736.3V738.8M256.1 718.4H258.6M277.3 736.3V738.8M256.1 717.4H258.6M278.2 736.3V739.8M255.10000000000002 716.4H258.6M284.1 736.3V738.8M256.1 710.5H258.6M287.5 736.3V738.8M256.1 707.0H258.6M290.0 736.3V738.8M256.1 704.5H258.6M291.9 736.3V738.8M256.1 702.6H258.6M293.4 736.3V738.8M256.1 701.0H258.6M294.7 736.3V738.8M256.1 699.7H258.6M295.9 736.3V738.8M256.1 698.5H258.6M296.9 736.3V738.8M256.1 697.5H258.6M297.8 736.3V739.8M255.10000000000002 696.6H258.6M303.6 736.3V738.8M256.1 690.6H258.6M307.1 736.3V738.8M256.1 687.1H258.6M309.5 736.3V738.8M256.1 684.6H258.6M311.4 736.3V738.8M256.1 682.7H258.6M313.0 736.3V738.8M256.1 681.2H258.6M314.3 736.3V738.8M256.1 679.8H258.6M315.4 736.3V738.8M256.1 678.7H258.6M316.4 736.3V738.8M256.1 677.7H258.6M317.3 736.3V739.8M255.10000000000002 676.8H258.6M323.2 736.3V738.8M256.1 670.8H258.6M326.7 736.3V738.8M256.1 667.3H258.6M329.1 736.3V738.8M256.1 664.8H258.6M331.0 736.3V738.8M256.1 662.9H258.6M332.6 736.3V738.8M256.1 661.3H258.6M333.9 736.3V738.8M256.1 660.0H258.6M335.0 736.3V738.8M256.1 658.8H258.6M336.0 736.3V738.8M256.1 657.8H258.6M336.9 736.3V739.8M255.10000000000002 656.9H258.6" stroke="#000" stroke-width="1.2" fill="none"/>
<text x="261.6" y="750.9" font-family="Liberation Sans" font-size="8.4" text-anchor="end" stroke="#000" stroke-width="0.35">10</text>
<text x="263.0" y="745.6" font-family="Liberation Sans" font-size="7.6" stroke="#000" stroke-width="0.35">0</text>
<text x="281.2" y="750.9" font-family="Liberation Sans" font-size="8.4" text-anchor="end" stroke="#000" stroke-width="0.35">10</text>
<text x="282.6" y="745.6" font-family="Liberation Sans" font-size="7.6" stroke="#000" stroke-width="0.35">1</text>
<text x="300.8" y="750.9" font-family="Liberation Sans" font-size="8.4" text-anchor="end" stroke="#000" stroke-width="0.35">10</text>
<text x="302.1" y="745.6" font-family="Liberation Sans" font-size="7.6" stroke="#000" stroke-width="0.35">2</text>
<text x="320.3" y="750.9" font-family="Liberation Sans" font-size="8.4" text-anchor="end" stroke="#000" stroke-width="0.35">10</text>
<text x="321.7" y="745.6" font-family="Liberation Sans" font-size="7.6" stroke="#000" stroke-width="0.35">3</text>
<text x="339.9" y="750.9" font-family="Liberation Sans" font-size="8.4" text-anchor="end" stroke="#000" stroke-width="0.35">10</text>
<text x="341.3" y="745.6" font-family="Liberation Sans" font-size="7.6" stroke="#000" stroke-width="0.35">4</text>
<text transform="translate(251.6 734.8) rotate(-90)" font-family="Liberation Sans" font-size="8.4" text-anchor="end" stroke="#000" stroke-width="0.35">10</text>
<text transform="translate(245.7 733.4) rotate(-90)" font-family="Liberation Sans" font-size="7.6" stroke="#000" stroke-width="0.35">0</text>
<text transform="translate(251.6 714.9) rotate(-90)" font-family="Liberation Sans" font-size="8.4" text-anchor="end" stroke="#000" stroke-width="0.35">10</text>
<text transform="translate(245.7 713.5) rotate(-90)" font-family="Liberation Sans" font-size="7.6" stroke="#000" stroke-width="0.35">1</text>
<text transform="translate(251.6 695.1) rotate(-90)" font-family="Liberation Sans" font-size="8.4" text-anchor="end" stroke="#000" stroke-width="0.35">10</text>
<text transform="translate(245.7 693.7) rotate(-90)" font-family="Liberation Sans" font-size="7.6" stroke="#000" stroke-width="0.35">2</text>
<text transform="translate(251.6 675.2) rotate(-90)" font-family="Liberation Sans" font-size="8.4" text-anchor="end" stroke="#000" stroke-width="0.35">10</text>
<text transform="translate(245.7 673.9) rotate(-90)" font-family="Liberation Sans" font-size="7.6" stroke="#000" stroke-width="0.35">3</text>
<text transform="translate(251.6 655.4) rotate(-90)" font-family="Liberation Sans" font-size="8.4" text-anchor="end" stroke="#000" stroke-width="0.35">10</text>
<text transform="translate(245.7 654.0) rotate(-90)" font-family="Liberation Sans" font-size="7.6" stroke="#000" stroke-width="0.35">4</text>
<path d="M438 664h1v1h-1zM453 664h1v1h-1zM486 664h1v1h-1zM439 665h1v1h-1zM442 665h1v1h-1zM451 665h1v1h-1zM499 665h1v1h-1zM435 666h1v1h-1zM438 666h1v1h-1zM441 666h1v1h-1zM443 666h1v1h-1zM445 666h1v1h-1zM447 666h1v1h-1zM449 666h1v1h-1zM452 666h1v1h-1zM454 666h2v1h-2zM457 666h1v1h-1zM467 666h1v1h-1zM481 666h1v1h-1zM435 667h1v1h-1zM439 667h1v1h-1zM441 667h1v1h-1zM444 667h1v1h-1zM446 667h2v1h-2zM452 667h1v1h-1zM456 667h2v1h-2zM477 667h1v1h-1zM480 667h1v1h-1zM488 667h1v1h-1zM436 668h2v1h-2zM439 668h1v1h-1zM441 668h3v1h-3zM445 668h4v1h-4zM450 668h2v1h-2zM453 668h2v1h-2zM457 668h2v1h-2zM472 668h1v1h-1zM482 668h1v1h-1zM490 668h1v1h-1zM435 669h27v1h-27zM472 669h1v1h-1zM486 669h1v1h-1zM435 670h22v1h-22zM459 670h2v1h-2zM462 670h1v1h-1zM475 670h1v1h-1zM478 670h1v1h-1zM485 670h1v1h-1zM487 670h1v1h-1zM489 670h1v1h-1zM435 671h24v1h-24zM460 671h1v1h-1zM463 671h1v1h-1zM473 671h1v1h-1zM477 671h1v1h-1zM482 671h2v1h-2zM486 671h1v1h-1zM435 672h26v1h-26zM463 672h1v1h-1zM470 672h1v1h-1zM473 672h1v1h-1zM476 672h2v1h-2zM481 672h1v1h-1zM484 672h1v1h-1zM486 672h1v1h-1zM488 672h1v1h-1zM494 672h1v1h-1zM435 673h25v1h-25zM461 673h1v1h-1zM466 673h1v1h-1zM468 673h1v1h-1zM470 673h2v1h-2zM474 673h2v1h-2zM477 673h3v1h-3zM481 673h2v1h-2zM484 673h1v1h-1zM487 673h1v1h-1zM493 673h2v1h-2zM435 674h27v1h-27zM463 674h1v1h-1zM474 674h1v1h-1zM476 674h2v1h-2zM480 674h1v1h-1zM483 674h1v1h-1zM486 674h1v1h-1zM489 674h1v1h-1zM493 674h1v1h-1zM435 675h26v1h-26zM464 675h1v1h-1zM469 675h1v1h-1zM471 675h2v1h-2zM474 675h3v1h-3zM478 675h2v1h-2zM481 675h8v1h-8zM491 675h2v1h-2zM435 676h28v1h-28zM473 676h2v1h-2zM477 676h9v1h-9zM487 676h1v1h-1zM489 676h1v1h-1zM492 676h1v1h-1zM435 677h26v1h-26zM462 677h2v1h-2zM472 677h16v1h-16zM490 677h1v1h-1zM496 677h1v1h-1zM435 678h27v1h-27zM463 678h1v1h-1zM468 678h1v1h-1zM471 678h15v1h-15zM487 678h2v1h-2zM435 679h25v1h-25zM461 679h2v1h-2zM464 679h1v1h-1zM468 679h21v1h-21zM490 679h1v1h-1zM498 679h1v1h-1zM435 680h26v1h-26zM462 680h1v1h-1zM464 680h3v1h-3zM470 680h17v1h-17zM488 680h2v1h-2zM491 680h1v1h-1zM495 680h1v1h-1zM435 681h30v1h-30zM470 681h19v1h-19zM435 682h25v1h-25zM462 682h1v1h-1zM467 682h1v1h-1zM469 682h1v1h-1zM471 682h17v1h-17zM489 682h1v1h-1zM491 682h1v1h-1zM435 683h27v1h-27zM464 683h2v1h-2zM467 683h1v1h-1zM471 683h18v1h-18zM490 683h1v1h-1zM435 684h29v1h-29zM467 684h2v1h-2zM470 684h20v1h-20zM500 684h1v1h-1zM435 685h25v1h-25zM461 685h1v1h-1zM464 685h1v1h-1zM466 685h2v1h-2zM469 685h1v1h-1zM471 685h17v1h-17zM491 685h2v1h-2zM435 686h25v1h-25zM463 686h1v1h-1zM467 686h2v1h-2zM470 686h18v1h-18zM489 686h1v1h-1zM492 686h1v1h-1zM435 687h24v1h-24zM460 687h1v1h-1zM463 687h1v1h-1zM467 687h1v1h-1zM469 687h21v1h-21zM494 687h1v1h-1zM435 688h25v1h-25zM461 688h2v1h-2zM467 688h22v1h-22zM435 689h5v1h-5zM442 689h4v1h-4zM447 689h5v1h-5zM453 689h3v1h-3zM457 689h3v1h-3zM464 689h1v1h-1zM469 689h20v1h-20zM490 689h1v1h-1zM437 690h6v1h-6zM444 690h4v1h-4zM449 690h1v1h-1zM451 690h1v1h-1zM454 690h2v1h-2zM457 690h1v1h-1zM459 690h2v1h-2zM462 690h2v1h-2zM465 690h1v1h-1zM469 690h1v1h-1zM471 690h18v1h-18zM490 690h2v1h-2zM437 691h1v1h-1zM439 691h1v1h-1zM444 691h3v1h-3zM448 691h2v1h-2zM451 691h1v1h-1zM454 691h2v1h-2zM457 691h1v1h-1zM467 691h22v1h-22zM492 691h1v1h-1zM435 692h1v1h-1zM444 692h1v1h-1zM448 692h1v1h-1zM452 692h2v1h-2zM457 692h1v1h-1zM469 692h1v1h-1zM471 692h20v1h-20zM493 692h1v1h-1zM436 693h2v1h-2zM442 693h2v1h-2zM449 693h1v1h-1zM457 693h1v1h-1zM464 693h2v1h-2zM467 693h24v1h-24zM493 693h1v1h-1zM438 694h1v1h-1zM440 694h1v1h-1zM444 694h1v1h-1zM450 694h2v1h-2zM458 694h1v1h-1zM460 694h1v1h-1zM462 694h1v1h-1zM465 694h1v1h-1zM467 694h1v1h-1zM471 694h22v1h-22zM436 695h1v1h-1zM438 695h1v1h-1zM441 695h1v1h-1zM460 695h1v1h-1zM462 695h1v1h-1zM465 695h1v1h-1zM469 695h20v1h-20zM490 695h3v1h-3zM437 696h1v1h-1zM448 696h1v1h-1zM453 696h2v1h-2zM468 696h22v1h-22zM492 696h1v1h-1zM494 696h2v1h-2zM442 697h1v1h-1zM458 697h1v1h-1zM471 697h18v1h-18zM490 697h2v1h-2zM499 697h1v1h-1zM503 697h1v1h-1zM443 698h1v1h-1zM451 698h2v1h-2zM463 698h1v1h-1zM465 698h1v1h-1zM470 698h19v1h-19zM491 698h1v1h-1zM439 699h1v1h-1zM446 699h1v1h-1zM448 699h1v1h-1zM465 699h1v1h-1zM471 699h20v1h-20zM496 699h1v1h-1zM447 700h1v1h-1zM451 700h1v1h-1zM463 700h1v1h-1zM466 700h1v1h-1zM471 700h19v1h-19zM491 700h1v1h-1zM493 700h2v1h-2zM499 700h1v1h-1zM446 701h1v1h-1zM449 701h1v1h-1zM451 701h1v1h-1zM462 701h1v1h-1zM465 701h1v1h-1zM468 701h1v1h-1zM471 701h18v1h-18zM490 701h1v1h-1zM494 701h1v1h-1zM447 702h1v1h-1zM450 702h1v1h-1zM457 702h1v1h-1zM460 702h2v1h-2zM463 702h3v1h-3zM470 702h19v1h-19zM491 702h2v1h-2zM445 703h1v1h-1zM449 703h1v1h-1zM463 703h1v1h-1zM465 703h1v1h-1zM469 703h21v1h-21zM491 703h1v1h-1zM437 704h1v1h-1zM440 704h1v1h-1zM442 704h2v1h-2zM457 704h1v1h-1zM463 704h1v1h-1zM468 704h24v1h-24zM495 704h1v1h-1zM449 705h1v1h-1zM452 705h1v1h-1zM460 705h1v1h-1zM467 705h1v1h-1zM469 705h20v1h-20zM435 706h1v1h-1zM451 706h1v1h-1zM457 706h1v1h-1zM464 706h1v1h-1zM468 706h23v1h-23zM436 707h1v1h-1zM439 707h1v1h-1zM447 707h1v1h-1zM449 707h1v1h-1zM452 707h1v1h-1zM459 707h1v1h-1zM461 707h1v1h-1zM470 707h17v1h-17zM488 707h1v1h-1zM493 707h1v1h-1zM510 707h1v1h-1zM436 708h1v1h-1zM455 708h1v1h-1zM460 708h1v1h-1zM464 708h1v1h-1zM468 708h22v1h-22zM491 708h1v1h-1zM494 708h1v1h-1zM435 709h1v1h-1zM438 709h1v1h-1zM443 709h1v1h-1zM452 709h1v1h-1zM461 709h1v1h-1zM466 709h22v1h-22zM490 709h3v1h-3zM435 710h1v1h-1zM439 710h1v1h-1zM448 710h1v1h-1zM452 710h1v1h-1zM457 710h3v1h-3zM469 710h20v1h-20zM490 710h2v1h-2zM435 711h1v1h-1zM439 711h1v1h-1zM445 711h1v1h-1zM462 711h1v1h-1zM469 711h20v1h-20zM493 711h1v1h-1zM438 712h1v1h-1zM440 712h2v1h-2zM455 712h1v1h-1zM467 712h1v1h-1zM469 712h2v1h-2zM472 712h16v1h-16zM489 712h2v1h-2zM446 713h3v1h-3zM452 713h1v1h-1zM455 713h1v1h-1zM462 713h1v1h-1zM469 713h20v1h-20zM492 713h1v1h-1zM444 714h1v1h-1zM446 714h1v1h-1zM451 714h2v1h-2zM456 714h1v1h-1zM462 714h1v1h-1zM465 714h1v1h-1zM467 714h1v1h-1zM469 714h18v1h-18zM489 714h2v1h-2zM442 715h1v1h-1zM446 715h2v1h-2zM463 715h1v1h-1zM468 715h21v1h-21zM493 715h1v1h-1zM436 716h1v1h-1zM440 716h1v1h-1zM444 716h1v1h-1zM469 716h18v1h-18zM488 716h2v1h-2zM441 717h1v1h-1zM452 717h1v1h-1zM454 717h1v1h-1zM456 717h2v1h-2zM462 717h3v1h-3zM467 717h3v1h-3zM471 717h20v1h-20zM439 718h1v1h-1zM443 718h1v1h-1zM445 718h3v1h-3zM451 718h1v1h-1zM460 718h2v1h-2zM467 718h1v1h-1zM469 718h1v1h-1zM471 718h17v1h-17zM489 718h2v1h-2zM435 719h1v1h-1zM438 719h1v1h-1zM446 719h1v1h-1zM449 719h1v1h-1zM453 719h1v1h-1zM460 719h1v1h-1zM468 719h1v1h-1zM471 719h19v1h-19zM438 720h1v1h-1zM440 720h1v1h-1zM444 720h1v1h-1zM448 720h1v1h-1zM453 720h1v1h-1zM455 720h1v1h-1zM457 720h1v1h-1zM460 720h1v1h-1zM464 720h1v1h-1zM467 720h21v1h-21zM435 721h1v1h-1zM444 721h1v1h-1zM446 721h1v1h-1zM450 721h1v1h-1zM454 721h1v1h-1zM460 721h1v1h-1zM465 721h1v1h-1zM469 721h2v1h-2zM472 721h16v1h-16zM449 722h1v1h-1zM457 722h2v1h-2zM465 722h1v1h-1zM468 722h1v1h-1zM470 722h19v1h-19zM443 723h1v1h-1zM450 723h1v1h-1zM467 723h2v1h-2zM470 723h20v1h-20zM446 724h2v1h-2zM455 724h2v1h-2zM459 724h1v1h-1zM465 724h1v1h-1zM468 724h19v1h-19zM443 725h1v1h-1zM449 725h2v1h-2zM462 725h1v1h-1zM470 725h20v1h-20zM439 726h1v1h-1zM446 726h1v1h-1zM450 726h1v1h-1zM463 726h1v1h-1zM465 726h2v1h-2zM468 726h1v1h-1zM470 726h20v1h-20zM437 727h1v1h-1zM445 727h1v1h-1zM450 727h1v1h-1zM454 727h1v1h-1zM467 727h20v1h-20zM438 728h1v1h-1zM441 728h1v1h-1zM448 728h2v1h-2zM455 728h1v1h-1zM470 728h19v1h-19zM443 729h1v1h-1zM451 729h1v1h-1zM454 729h2v1h-2zM458 729h1v1h-1zM460 729h1v1h-1zM471 729h17v1h-17zM436 730h1v1h-1zM438 730h1v1h-1zM441 730h1v1h-1zM444 730h1v1h-1zM447 730h2v1h-2zM450 730h1v1h-1zM453 730h1v1h-1zM459 730h1v1h-1zM469 730h2v1h-2zM472 730h16v1h-16zM435 731h1v1h-1zM440 731h1v1h-1zM443 731h1v1h-1zM450 731h1v1h-1zM452 731h1v1h-1zM456 731h2v1h-2zM462 731h1v1h-1zM465 731h1v1h-1zM468 731h19v1h-19zM488 731h1v1h-1zM490 731h1v1h-1zM439 732h2v1h-2zM444 732h1v1h-1zM447 732h1v1h-1zM456 732h1v1h-1zM463 732h1v1h-1zM468 732h21v1h-21zM448 733h1v1h-1zM454 733h1v1h-1zM457 733h1v1h-1zM470 733h1v1h-1zM472 733h17v1h-17zM444 734h1v1h-1zM450 734h1v1h-1zM459 734h1v1h-1zM470 734h17v1h-17zM488 734h2v1h-2z" fill="#000"/>
<path d="M466.9 656.8V735.3M434.6 702.8H512.6" stroke="#000" stroke-width="1.2" fill="none"/>
<rect x="434.6" y="656.8" width="78.0" height="78.5" fill="none" stroke="#000" stroke-width="1.2"/>
<rect x="435.3" y="657.5" width="23" height="11" fill="#fff"/>
<text x="436.5" y="668.2" font-family="Liberation Serif" font-size="12.5" font-weight="normal" text-anchor="start" stroke="#000" stroke-width="0.12">47.5</text>
<rect x="486.1" y="659.7" width="22.9" height="9.0" fill="#fff"/>
<text x="508.5" y="668.2" font-family="Liberation Serif" font-size="12.5" font-weight="normal" text-anchor="end" stroke="#000" stroke-width="0.12">26.0</text>
<rect x="489" y="704" width="23" height="11" fill="#fff"/>
<text x="510.8" y="713.8" font-family="Liberation Serif" font-size="12.5" font-weight="normal" text-anchor="end" stroke="#000" stroke-width="0.12">23.6</text>
<path d="M434.6 735.3V738.8M431.1 735.3H434.6M440.5 735.3V737.8M432.1 729.4H434.6M443.9 735.3V737.8M432.1 725.9H434.6M446.3 735.3V737.8M432.1 723.5H434.6M448.2 735.3V737.8M432.1 721.6H434.6M449.8 735.3V737.8M432.1 720.0H434.6M451.1 735.3V737.8M432.1 718.7H434.6M452.2 735.3V737.8M432.1 717.6H434.6M453.2 735.3V737.8M432.1 716.6H434.6M454.1 735.3V738.8M431.1 715.7H434.6M460.0 735.3V737.8M432.1 709.8H434.6M463.4 735.3V737.8M432.1 706.3H434.6M465.8 735.3V737.8M432.1 703.9H434.6M467.7 735.3V737.8M432.1 702.0H434.6M469.3 735.3V737.8M432.1 700.4H434.6M470.6 735.3V737.8M432.1 699.1H434.6M471.7 735.3V737.8M432.1 698.0H434.6M472.7 735.3V737.8M432.1 696.9H434.6M473.6 735.3V738.8M431.1 696.0H434.6M479.5 735.3V737.8M432.1 690.1H434.6M482.9 735.3V737.8M432.1 686.7H434.6M485.3 735.3V737.8M432.1 684.2H434.6M487.2 735.3V737.8M432.1 682.3H434.6M488.8 735.3V737.8M432.1 680.8H434.6M490.1 735.3V737.8M432.1 679.5H434.6M491.2 735.3V737.8M432.1 678.3H434.6M492.2 735.3V737.8M432.1 677.3H434.6M493.1 735.3V738.8M431.1 676.4H434.6M499.0 735.3V737.8M432.1 670.5H434.6M502.4 735.3V737.8M432.1 667.1H434.6M504.8 735.3V737.8M432.1 664.6H434.6M506.7 735.3V737.8M432.1 662.7H434.6M508.3 735.3V737.8M432.1 661.2H434.6M509.6 735.3V737.8M432.1 659.8H434.6M510.7 735.3V737.8M432.1 658.7H434.6M511.7 735.3V737.8M432.1 657.7H434.6M512.6 735.3V738.8M431.1 656.8H434.6" stroke="#000" stroke-width="1.2" fill="none"/>
<text x="437.6" y="749.9" font-family="Liberation Sans" font-size="8.4" text-anchor="end" stroke="#000" stroke-width="0.35">10</text>
<text x="439.0" y="744.6" font-family="Liberation Sans" font-size="7.6" stroke="#000" stroke-width="0.35">0</text>
<text x="457.1" y="749.9" font-family="Liberation Sans" font-size="8.4" text-anchor="end" stroke="#000" stroke-width="0.35">10</text>
<text x="458.5" y="744.6" font-family="Liberation Sans" font-size="7.6" stroke="#000" stroke-width="0.35">1</text>
<text x="476.6" y="749.9" font-family="Liberation Sans" font-size="8.4" text-anchor="end" stroke="#000" stroke-width="0.35">10</text>
<text x="478.0" y="744.6" font-family="Liberation Sans" font-size="7.6" stroke="#000" stroke-width="0.35">2</text>
<text x="496.1" y="749.9" font-family="Liberation Sans" font-size="8.4" text-anchor="end" stroke="#000" stroke-width="0.35">10</text>
<text x="497.5" y="744.6" font-family="Liberation Sans" font-size="7.6" stroke="#000" stroke-width="0.35">3</text>
<text x="515.6" y="749.9" font-family="Liberation Sans" font-size="8.4" text-anchor="end" stroke="#000" stroke-width="0.35">10</text>
<text x="517.0" y="744.6" font-family="Liberation Sans" font-size="7.6" stroke="#000" stroke-width="0.35">4</text>
<text transform="translate(427.6 733.8) rotate(-90)" font-family="Liberation Sans" font-size="8.4" text-anchor="end" stroke="#000" stroke-width="0.35">10</text>
<text transform="translate(421.7 732.4) rotate(-90)" font-family="Liberation Sans" font-size="7.6" stroke="#000" stroke-width="0.35">0</text>
<text transform="translate(427.6 714.2) rotate(-90)" font-family="Liberation Sans" font-size="8.4" text-anchor="end" stroke="#000" stroke-width="0.35">10</text>
<text transform="translate(421.7 712.8) rotate(-90)" font-family="Liberation Sans" font-size="7.6" stroke="#000" stroke-width="0.35">1</text>
<text transform="translate(427.6 694.5) rotate(-90)" font-family="Liberation Sans" font-size="8.4" text-anchor="end" stroke="#000" stroke-width="0.35">10</text>
<text transform="translate(421.7 693.1) rotate(-90)" font-family="Liberation Sans" font-size="7.6" stroke="#000" stroke-width="0.35">2</text>
<text transform="translate(427.6 674.9) rotate(-90)" font-family="Liberation Sans" font-size="8.4" text-anchor="end" stroke="#000" stroke-width="0.35">10</text>
<text transform="translate(421.7 673.5) rotate(-90)" font-family="Liberation Sans" font-size="7.6" stroke="#000" stroke-width="0.35">3</text>
<text transform="translate(427.6 655.3) rotate(-90)" font-family="Liberation Sans" font-size="8.4" text-anchor="end" stroke="#000" stroke-width="0.35">10</text>
<text transform="translate(421.7 653.9) rotate(-90)" font-family="Liberation Sans" font-size="7.6" stroke="#000" stroke-width="0.35">4</text>
<path d="M214.3 749.6V790.7H282" stroke="#000" stroke-width="1.6" fill="none"/>
<path d="M214.3 742.6l-4 8.4h8z M289 790.7l-8.4 -4.1v8.2z" fill="#000"/>
<path d="M391.6 749.3V790.6H460.1" stroke="#000" stroke-width="1.6" fill="none"/>
<path d="M391.6 742.3l-4 8.4h8z M467.1 790.6l-8.4 -4.1v8.2z" fill="#000"/>
<text transform="translate(218.3 737.6) rotate(-90)" font-family="Liberation Serif" font-size="12.5" font-weight="bold">CD56</text>
<text transform="translate(396.6 737.1) rotate(-90)" font-family="Liberation Serif" font-size="12.5" font-weight="bold">CD5</text>
<text x="295.6" y="793.6" font-family="Liberation Serif" font-size="12.5" font-weight="bold" text-anchor="start" >CD3</text>
<text x="472.3" y="793.6" font-family="Liberation Serif" font-size="12.5" font-weight="bold" text-anchor="start" >CD19</text>
<text x="0.3" y="851" font-family="Liberation Sans" font-size="32" font-weight="bold">C</text>
<path d="M125 876h2v1h-2zM158 876h2v1h-2zM125 877h2v1h-2zM158 877h2v1h-2zM129 880h2v1h-2zM129 881h2v1h-2zM156 881h2v1h-2zM156 882h2v1h-2zM129 883h2v1h-2zM134 883h2v1h-2zM129 884h2v1h-2zM134 884h2v1h-2zM156 885h2v1h-2zM126 886h4v1h-4zM156 886h2v1h-2zM120 887h2v1h-2zM125 887h5v1h-5zM139 887h2v1h-2zM120 888h2v1h-2zM125 888h2v1h-2zM139 888h2v1h-2zM152 888h2v1h-2zM124 889h5v1h-5zM148 889h2v1h-2zM152 889h2v1h-2zM124 890h5v1h-5zM148 890h2v1h-2zM122 891h2v1h-2zM125 891h2v1h-2zM159 891h2v1h-2zM115 892h2v1h-2zM122 892h2v1h-2zM127 892h2v1h-2zM159 892h2v1h-2zM115 893h2v1h-2zM124 893h2v1h-2zM127 893h2v1h-2zM118 894h2v1h-2zM123 894h3v1h-3zM155 894h4v1h-4zM165 894h2v1h-2zM118 895h2v1h-2zM121 895h5v1h-5zM155 895h4v1h-4zM165 895h2v1h-2zM118 896h2v1h-2zM121 896h4v1h-4zM165 896h2v1h-2zM118 897h2v1h-2zM127 897h2v1h-2zM130 897h2v1h-2zM148 897h2v1h-2zM154 897h7v1h-7zM116 898h2v1h-2zM119 898h5v1h-5zM127 898h2v1h-2zM130 898h2v1h-2zM148 898h2v1h-2zM154 898h7v1h-7zM115 899h9v1h-9zM115 900h8v1h-8zM146 900h2v1h-2zM153 900h2v1h-2zM115 901h3v1h-3zM119 901h2v1h-2zM146 901h2v1h-2zM153 901h2v1h-2zM155 902h2v1h-2zM114 903h5v1h-5zM154 903h3v1h-3zM111 904h2v1h-2zM114 904h5v1h-5zM154 904h2v1h-2zM111 905h2v1h-2zM114 905h2v1h-2zM153 905h2v1h-2zM162 905h2v1h-2zM111 906h4v1h-4zM116 906h2v1h-2zM153 906h2v1h-2zM156 906h2v1h-2zM162 906h2v1h-2zM111 907h4v1h-4zM116 907h2v1h-2zM156 907h2v1h-2zM161 907h2v1h-2zM104 908h2v1h-2zM108 908h3v1h-3zM112 908h2v1h-2zM148 908h2v1h-2zM161 908h2v1h-2zM104 909h2v1h-2zM108 909h3v1h-3zM112 909h2v1h-2zM148 909h2v1h-2zM101 910h2v1h-2zM105 910h4v1h-4zM112 910h2v1h-2zM101 911h2v1h-2zM105 911h6v1h-6zM112 911h2v1h-2zM165 911h2v1h-2zM103 912h2v1h-2zM106 912h5v1h-5zM165 912h2v1h-2zM103 913h2v1h-2zM107 913h2v1h-2zM105 914h4v1h-4zM105 915h2v1h-2zM103 916h4v1h-4zM100 917h2v1h-2zM103 917h2v1h-2zM154 917h2v1h-2zM100 918h2v1h-2zM103 918h5v1h-5zM154 918h2v1h-2zM98 919h10v1h-10zM98 920h7v1h-7zM101 921h2v1h-2zM92 922h2v1h-2zM99 922h2v1h-2zM92 923h2v1h-2zM95 923h2v1h-2zM98 923h3v1h-3zM102 923h2v1h-2zM95 924h2v1h-2zM98 924h6v1h-6zM93 925h2v1h-2zM98 925h2v1h-2zM101 925h4v1h-4zM93 926h2v1h-2zM96 926h2v1h-2zM103 926h2v1h-2zM89 927h2v1h-2zM96 927h3v1h-3zM89 928h2v1h-2zM94 928h5v1h-5zM94 929h3v1h-3zM95 930h5v1h-5zM76 931h2v1h-2zM95 931h5v1h-5zM76 932h2v1h-2zM120 932h2v1h-2zM76 933h2v1h-2zM83 933h2v1h-2zM90 933h2v1h-2zM120 933h2v1h-2zM76 934h2v1h-2zM83 934h2v1h-2zM90 934h2v1h-2zM76 935h4v1h-4zM90 935h2v1h-2zM124 935h2v1h-2zM76 936h4v1h-4zM84 936h2v1h-2zM89 936h3v1h-3zM95 936h2v1h-2zM122 936h6v1h-6zM77 937h2v1h-2zM82 937h4v1h-4zM89 937h3v1h-3zM95 937h2v1h-2zM99 937h2v1h-2zM108 937h2v1h-2zM122 937h2v1h-2zM126 937h2v1h-2zM77 938h3v1h-3zM82 938h3v1h-3zM90 938h2v1h-2zM95 938h2v1h-2zM99 938h2v1h-2zM108 938h2v1h-2zM120 938h2v1h-2zM123 938h2v1h-2zM134 938h2v1h-2zM76 939h9v1h-9zM98 939h2v1h-2zM120 939h2v1h-2zM123 939h4v1h-4zM134 939h2v1h-2zM75 940h3v1h-3zM80 940h4v1h-4zM98 940h2v1h-2zM103 940h2v1h-2zM110 940h2v1h-2zM120 940h3v1h-3zM125 940h2v1h-2zM75 941h3v1h-3zM85 941h2v1h-2zM95 941h5v1h-5zM102 941h3v1h-3zM107 941h2v1h-2zM110 941h2v1h-2zM120 941h3v1h-3zM76 942h2v1h-2zM83 942h5v1h-5zM95 942h4v1h-4zM100 942h4v1h-4zM107 942h2v1h-2zM120 942h3v1h-3zM75 943h2v1h-2zM82 943h6v1h-6zM94 943h5v1h-5zM100 943h2v1h-2zM120 943h2v1h-2zM75 944h2v1h-2zM78 944h2v1h-2zM82 944h4v1h-4zM89 944h2v1h-2zM94 944h4v1h-4zM102 944h2v1h-2zM107 944h2v1h-2zM122 944h2v1h-2zM126 944h2v1h-2zM75 945h2v1h-2zM78 945h2v1h-2zM89 945h3v1h-3zM94 945h2v1h-2zM99 945h5v1h-5zM107 945h2v1h-2zM122 945h2v1h-2zM126 945h2v1h-2zM75 946h2v1h-2zM78 946h4v1h-4zM84 946h2v1h-2zM87 946h2v1h-2zM90 946h6v1h-6zM99 946h4v1h-4zM75 947h7v1h-7zM83 947h14v1h-14zM105 947h4v1h-4zM75 948h18v1h-18zM95 948h2v1h-2zM98 948h5v1h-5zM105 948h4v1h-4zM122 948h2v1h-2zM75 949h19v1h-19zM96 949h9v1h-9zM107 949h2v1h-2zM122 949h2v1h-2zM75 950h12v1h-12zM88 950h2v1h-2zM92 950h7v1h-7zM100 950h9v1h-9zM116 950h2v1h-2zM75 951h24v1h-24zM100 951h4v1h-4zM105 951h2v1h-2zM114 951h4v1h-4zM75 952h29v1h-29zM106 952h2v1h-2zM109 952h2v1h-2zM114 952h3v1h-3zM75 953h33v1h-33zM109 953h4v1h-4zM116 953h4v1h-4zM75 954h35v1h-35zM111 954h2v1h-2zM116 954h6v1h-6zM75 955h35v1h-35zM111 955h2v1h-2zM118 955h4v1h-4zM75 956h39v1h-39zM75 957h41v1h-41zM75 958h38v1h-38zM114 958h2v1h-2zM75 959h38v1h-38zM117 959h2v1h-2zM75 960h39v1h-39zM117 960h2v1h-2zM75 961h39v1h-39zM129 961h2v1h-2zM75 962h40v1h-40zM129 962h2v1h-2zM75 963h45v1h-45zM127 963h2v1h-2zM75 964h45v1h-45zM127 964h2v1h-2zM134 964h2v1h-2zM75 965h41v1h-41zM123 965h2v1h-2zM134 965h2v1h-2zM75 966h41v1h-41zM117 966h8v1h-8zM75 967h48v1h-48zM127 967h2v1h-2zM75 968h46v1h-46zM127 968h2v1h-2zM159 968h2v1h-2zM167 968h2v1h-2zM174 968h2v1h-2zM75 969h43v1h-43zM119 969h4v1h-4zM124 969h2v1h-2zM159 969h2v1h-2zM167 969h2v1h-2zM174 969h2v1h-2zM75 970h43v1h-43zM119 970h4v1h-4zM124 970h2v1h-2zM155 970h2v1h-2zM171 970h2v1h-2zM75 971h43v1h-43zM155 971h2v1h-2zM171 971h2v1h-2zM75 972h43v1h-43zM119 972h2v1h-2zM122 972h3v1h-3zM142 972h2v1h-2zM157 972h2v1h-2zM162 972h2v1h-2zM75 973h43v1h-43zM119 973h6v1h-6zM142 973h2v1h-2zM146 973h2v1h-2zM154 973h2v1h-2zM157 973h2v1h-2zM162 973h2v1h-2zM167 973h2v1h-2zM75 974h43v1h-43zM120 974h3v1h-3zM134 974h2v1h-2zM146 974h2v1h-2zM153 974h3v1h-3zM157 974h4v1h-4zM166 974h3v1h-3zM75 975h42v1h-42zM118 975h4v1h-4zM129 975h2v1h-2zM132 975h4v1h-4zM152 975h3v1h-3zM156 975h6v1h-6zM164 975h4v1h-4zM75 976h50v1h-50zM126 976h2v1h-2zM129 976h2v1h-2zM132 976h2v1h-2zM146 976h2v1h-2zM151 976h7v1h-7zM160 976h8v1h-8zM169 976h3v1h-3zM174 976h2v1h-2zM75 977h50v1h-50zM126 977h2v1h-2zM146 977h2v1h-2zM151 977h6v1h-6zM159 977h9v1h-9zM169 977h3v1h-3zM174 977h2v1h-2zM75 978h47v1h-47zM123 978h2v1h-2zM146 978h4v1h-4zM152 978h6v1h-6zM159 978h2v1h-2zM162 978h2v1h-2zM166 978h2v1h-2zM171 978h2v1h-2zM75 979h45v1h-45zM121 979h5v1h-5zM146 979h7v1h-7zM154 979h4v1h-4zM159 979h5v1h-5zM167 979h6v1h-6zM75 980h48v1h-48zM124 980h2v1h-2zM147 980h17v1h-17zM165 980h6v1h-6zM75 981h46v1h-46zM122 981h2v1h-2zM128 981h2v1h-2zM132 981h2v1h-2zM147 981h2v1h-2zM150 981h4v1h-4zM156 981h8v1h-8zM165 981h5v1h-5zM75 982h49v1h-49zM125 982h2v1h-2zM128 982h6v1h-6zM149 982h3v1h-3zM156 982h14v1h-14zM174 982h2v1h-2zM75 983h45v1h-45zM121 983h3v1h-3zM125 983h2v1h-2zM130 983h3v1h-3zM134 983h2v1h-2zM145 983h8v1h-8zM156 983h13v1h-13zM171 983h2v1h-2zM174 983h2v1h-2zM75 984h44v1h-44zM122 984h4v1h-4zM131 984h2v1h-2zM134 984h2v1h-2zM143 984h6v1h-6zM151 984h2v1h-2zM156 984h13v1h-13zM171 984h2v1h-2zM174 984h2v1h-2zM180 984h2v1h-2zM75 985h45v1h-45zM121 985h2v1h-2zM124 985h2v1h-2zM135 985h2v1h-2zM138 985h2v1h-2zM143 985h2v1h-2zM147 985h3v1h-3zM153 985h5v1h-5zM161 985h2v1h-2zM164 985h3v1h-3zM180 985h2v1h-2zM75 986h50v1h-50zM126 986h4v1h-4zM135 986h2v1h-2zM138 986h2v1h-2zM146 986h6v1h-6zM153 986h10v1h-10zM164 986h3v1h-3zM75 987h50v1h-50zM126 987h4v1h-4zM133 987h2v1h-2zM146 987h2v1h-2zM149 987h3v1h-3zM153 987h10v1h-10zM164 987h3v1h-3zM171 987h2v1h-2zM75 988h49v1h-49zM125 988h4v1h-4zM132 988h3v1h-3zM140 988h3v1h-3zM149 988h2v1h-2zM153 988h8v1h-8zM162 988h2v1h-2zM166 988h4v1h-4zM171 988h2v1h-2zM75 989h49v1h-49zM125 989h2v1h-2zM128 989h2v1h-2zM132 989h2v1h-2zM137 989h2v1h-2zM140 989h3v1h-3zM149 989h12v1h-12zM162 989h2v1h-2zM166 989h6v1h-6zM75 990h49v1h-49zM128 990h3v1h-3zM132 990h2v1h-2zM137 990h2v1h-2zM141 990h2v1h-2zM145 990h3v1h-3zM149 990h8v1h-8zM162 990h3v1h-3zM170 990h2v1h-2zM180 990h2v1h-2zM75 991h47v1h-47zM124 991h7v1h-7zM132 991h2v1h-2zM145 991h3v1h-3zM151 991h3v1h-3zM155 991h2v1h-2zM161 991h4v1h-4zM169 991h2v1h-2zM180 991h2v1h-2zM75 992h48v1h-48zM124 992h5v1h-5zM132 992h2v1h-2zM136 992h2v1h-2zM151 992h3v1h-3zM156 992h3v1h-3zM161 992h2v1h-2zM169 992h2v1h-2zM75 993h45v1h-45zM121 993h2v1h-2zM136 993h2v1h-2zM156 993h3v1h-3zM161 993h2v1h-2zM75 994h47v1h-47zM130 994h2v1h-2zM150 994h2v1h-2zM153 994h2v1h-2zM157 994h2v1h-2zM160 994h2v1h-2zM75 995h47v1h-47zM127 995h2v1h-2zM130 995h3v1h-3zM150 995h2v1h-2zM153 995h2v1h-2zM157 995h2v1h-2zM160 995h2v1h-2zM168 995h2v1h-2zM75 996h47v1h-47zM127 996h6v1h-6zM168 996h2v1h-2zM75 997h47v1h-47zM125 997h2v1h-2zM129 997h2v1h-2zM150 997h2v1h-2zM75 998h47v1h-47zM125 998h3v1h-3zM129 998h2v1h-2zM145 998h2v1h-2zM150 998h2v1h-2zM153 998h2v1h-2zM75 999h50v1h-50zM126 999h2v1h-2zM145 999h2v1h-2zM153 999h2v1h-2zM75 1000h45v1h-45zM121 1000h4v1h-4z" fill="#000"/>
<path d="M136 866.7V1001.2M74.7 946H217.5" stroke="#000" stroke-width="1.5" fill="none"/>
<rect x="74.7" y="866.7" width="142.8" height="134.5" fill="none" stroke="#000" stroke-width="1.8"/>
<path d="M74.7 1001.2V1007.7M68.2 1001.2H74.7M85.4 1001.2V1005.4000000000001M70.5 991.1H74.7M91.7 1001.2V1005.4000000000001M70.5 985.2H74.7M96.2 1001.2V1005.4000000000001M70.5 981.0H74.7M99.7 1001.2V1005.4000000000001M70.5 977.7H74.7M102.5 1001.2V1005.4000000000001M70.5 975.0H74.7M104.9 1001.2V1005.4000000000001M70.5 972.8H74.7M106.9 1001.2V1005.4000000000001M70.5 970.8H74.7M108.8 1001.2V1005.4000000000001M70.5 969.1H74.7M110.4 1001.2V1007.7M68.2 967.6H74.7M121.1 1001.2V1005.4000000000001M70.5 957.5H74.7M127.4 1001.2V1005.4000000000001M70.5 951.5H74.7M131.9 1001.2V1005.4000000000001M70.5 947.3H74.7M135.4 1001.2V1005.4000000000001M70.5 944.1H74.7M138.2 1001.2V1005.4000000000001M70.5 941.4H74.7M140.6 1001.2V1005.4000000000001M70.5 939.2H74.7M142.6 1001.2V1005.4000000000001M70.5 937.2H74.7M144.5 1001.2V1005.4000000000001M70.5 935.5H74.7M146.1 1001.2V1007.7M68.2 934.0H74.7M156.8 1001.2V1005.4000000000001M70.5 923.8H74.7M163.1 1001.2V1005.4000000000001M70.5 917.9H74.7M167.6 1001.2V1005.4000000000001M70.5 913.7H74.7M171.1 1001.2V1005.4000000000001M70.5 910.4H74.7M173.9 1001.2V1005.4000000000001M70.5 907.8H74.7M176.3 1001.2V1005.4000000000001M70.5 905.5H74.7M178.3 1001.2V1005.4000000000001M70.5 903.6H74.7M180.2 1001.2V1005.4000000000001M70.5 901.9H74.7M181.8 1001.2V1007.7M68.2 900.3H74.7M192.5 1001.2V1005.4000000000001M70.5 890.2H74.7M198.8 1001.2V1005.4000000000001M70.5 884.3H74.7M203.3 1001.2V1005.4000000000001M70.5 880.1H74.7M206.8 1001.2V1005.4000000000001M70.5 876.8H74.7M209.6 1001.2V1005.4000000000001M70.5 874.2H74.7M212.0 1001.2V1005.4000000000001M70.5 871.9H74.7M214.0 1001.2V1005.4000000000001M70.5 870.0H74.7M215.9 1001.2V1005.4000000000001M70.5 868.2H74.7M217.5 1001.2V1007.7M68.2 866.7H74.7" stroke="#000" stroke-width="1.5" fill="none"/>
<text x="79.7" y="1024.5" font-family="Liberation Sans" font-size="13.6" text-anchor="end" stroke="#000" stroke-width="0.5">10</text>
<text x="81.5" y="1016.3" font-family="Liberation Sans" font-size="12.5" stroke="#000" stroke-width="0.5">0</text>
<text x="115.4" y="1024.5" font-family="Liberation Sans" font-size="13.6" text-anchor="end" stroke="#000" stroke-width="0.5">10</text>
<text x="117.2" y="1016.3" font-family="Liberation Sans" font-size="12.5" stroke="#000" stroke-width="0.5">1</text>
<text x="151.1" y="1024.5" font-family="Liberation Sans" font-size="13.6" text-anchor="end" stroke="#000" stroke-width="0.5">10</text>
<text x="152.9" y="1016.3" font-family="Liberation Sans" font-size="12.5" stroke="#000" stroke-width="0.5">2</text>
<text x="186.8" y="1024.5" font-family="Liberation Sans" font-size="13.6" text-anchor="end" stroke="#000" stroke-width="0.5">10</text>
<text x="188.6" y="1016.3" font-family="Liberation Sans" font-size="12.5" stroke="#000" stroke-width="0.5">3</text>
<text x="222.5" y="1024.5" font-family="Liberation Sans" font-size="13.6" text-anchor="end" stroke="#000" stroke-width="0.5">10</text>
<text x="224.3" y="1016.3" font-family="Liberation Sans" font-size="12.5" stroke="#000" stroke-width="0.5">4</text>
<text transform="translate(61.3 999.2) rotate(-90)" font-family="Liberation Sans" font-size="13.6" text-anchor="end" stroke="#000" stroke-width="0.5">10</text>
<text transform="translate(53.5 997.5) rotate(-90)" font-family="Liberation Sans" font-size="13" stroke="#000" stroke-width="0.5">0</text>
<text transform="translate(61.3 965.6) rotate(-90)" font-family="Liberation Sans" font-size="13.6" text-anchor="end" stroke="#000" stroke-width="0.5">10</text>
<text transform="translate(53.5 963.9) rotate(-90)" font-family="Liberation Sans" font-size="13" stroke="#000" stroke-width="0.5">1</text>
<text transform="translate(61.3 932.0) rotate(-90)" font-family="Liberation Sans" font-size="13.6" text-anchor="end" stroke="#000" stroke-width="0.5">10</text>
<text transform="translate(53.5 930.2) rotate(-90)" font-family="Liberation Sans" font-size="13" stroke="#000" stroke-width="0.5">2</text>
<text transform="translate(61.3 898.3) rotate(-90)" font-family="Liberation Sans" font-size="13.6" text-anchor="end" stroke="#000" stroke-width="0.5">10</text>
<text transform="translate(53.5 896.6) rotate(-90)" font-family="Liberation Sans" font-size="13" stroke="#000" stroke-width="0.5">3</text>
<text transform="translate(61.3 864.7) rotate(-90)" font-family="Liberation Sans" font-size="13.6" text-anchor="end" stroke="#000" stroke-width="0.5">10</text>
<text transform="translate(53.5 863.0) rotate(-90)" font-family="Liberation Sans" font-size="13" stroke="#000" stroke-width="0.5">4</text>
<text transform="translate(14.4 962.6) rotate(-90)" font-family="Liberation Serif" font-size="19.2" font-weight="bold">CD56</text>
<text transform="translate(103.2 1058.8) scale(1.0 1.03)" font-family="Liberation Serif" font-size="19" font-weight="bold" text-anchor="start" >CD158a</text>
<path d="M423 873h2v1h-2zM423 874h2v1h-2zM417 877h2v1h-2zM420 877h6v1h-6zM417 878h2v1h-2zM420 878h6v1h-6zM422 879h2v1h-2zM428 879h3v1h-3zM422 880h3v1h-3zM428 880h3v1h-3zM415 881h3v1h-3zM420 881h7v1h-7zM414 882h4v1h-4zM420 882h3v1h-3zM425 882h2v1h-2zM414 883h2v1h-2zM419 883h3v1h-3zM424 883h3v1h-3zM412 884h11v1h-11zM424 884h3v1h-3zM412 885h2v1h-2zM415 885h8v1h-8zM424 885h2v1h-2zM429 885h2v1h-2zM417 886h2v1h-2zM420 886h3v1h-3zM424 886h2v1h-2zM429 886h2v1h-2zM415 887h4v1h-4zM420 887h2v1h-2zM423 887h3v1h-3zM414 888h6v1h-6zM423 888h3v1h-3zM414 889h6v1h-6zM416 890h5v1h-5zM414 891h7v1h-7zM476 891h2v1h-2zM414 892h2v1h-2zM417 892h4v1h-4zM476 892h2v1h-2zM413 893h3v1h-3zM419 893h2v1h-2zM412 894h3v1h-3zM416 894h2v1h-2zM406 895h2v1h-2zM411 895h7v1h-7zM406 896h2v1h-2zM410 896h6v1h-6zM410 897h2v1h-2zM402 898h2v1h-2zM409 898h3v1h-3zM480 898h2v1h-2zM402 899h2v1h-2zM409 899h3v1h-3zM415 899h2v1h-2zM480 899h3v1h-3zM409 900h5v1h-5zM415 900h2v1h-2zM481 900h2v1h-2zM411 901h3v1h-3zM403 902h2v1h-2zM406 902h3v1h-3zM410 902h4v1h-4zM481 902h2v1h-2zM403 903h9v1h-9zM480 903h3v1h-3zM404 904h3v1h-3zM408 904h2v1h-2zM411 904h2v1h-2zM480 904h2v1h-2zM406 905h2v1h-2zM409 905h4v1h-4zM478 905h2v1h-2zM406 906h2v1h-2zM409 906h2v1h-2zM478 906h2v1h-2zM404 907h2v1h-2zM407 907h3v1h-3zM390 908h2v1h-2zM399 908h4v1h-4zM404 908h2v1h-2zM407 908h3v1h-3zM390 909h2v1h-2zM399 909h4v1h-4zM403 910h6v1h-6zM398 911h2v1h-2zM403 911h6v1h-6zM477 911h2v1h-2zM394 912h2v1h-2zM398 912h3v1h-3zM404 912h2v1h-2zM410 912h2v1h-2zM477 912h2v1h-2zM394 913h2v1h-2zM399 913h2v1h-2zM402 913h3v1h-3zM410 913h2v1h-2zM394 914h2v1h-2zM399 914h2v1h-2zM402 914h3v1h-3zM399 915h4v1h-4zM397 916h2v1h-2zM401 916h3v1h-3zM387 917h2v1h-2zM395 917h4v1h-4zM400 917h4v1h-4zM387 918h2v1h-2zM395 918h7v1h-7zM380 919h2v1h-2zM391 919h2v1h-2zM395 919h2v1h-2zM398 919h2v1h-2zM410 919h2v1h-2zM380 920h2v1h-2zM391 920h4v1h-4zM398 920h2v1h-2zM404 920h2v1h-2zM410 920h2v1h-2zM384 921h2v1h-2zM392 921h7v1h-7zM404 921h2v1h-2zM384 922h2v1h-2zM391 922h8v1h-8zM386 923h2v1h-2zM391 923h6v1h-6zM402 923h2v1h-2zM386 924h3v1h-3zM394 924h2v1h-2zM402 924h2v1h-2zM387 925h3v1h-3zM394 925h2v1h-2zM382 926h2v1h-2zM388 926h2v1h-2zM393 926h3v1h-3zM368 927h2v1h-2zM382 927h2v1h-2zM388 927h2v1h-2zM392 927h3v1h-3zM368 928h2v1h-2zM381 928h2v1h-2zM388 928h2v1h-2zM392 928h2v1h-2zM381 929h2v1h-2zM388 929h3v1h-3zM366 930h4v1h-4zM386 930h5v1h-5zM408 930h2v1h-2zM366 931h4v1h-4zM386 931h5v1h-5zM403 931h3v1h-3zM408 931h2v1h-2zM375 932h2v1h-2zM387 932h5v1h-5zM403 932h3v1h-3zM375 933h2v1h-2zM385 933h4v1h-4zM390 933h2v1h-2zM405 933h2v1h-2zM366 934h2v1h-2zM385 934h4v1h-4zM405 934h2v1h-2zM416 934h2v1h-2zM366 935h2v1h-2zM376 935h2v1h-2zM385 935h4v1h-4zM393 935h2v1h-2zM416 935h2v1h-2zM367 936h2v1h-2zM371 936h2v1h-2zM376 936h4v1h-4zM385 936h2v1h-2zM393 936h2v1h-2zM367 937h2v1h-2zM370 937h3v1h-3zM376 937h5v1h-5zM385 937h2v1h-2zM395 937h2v1h-2zM418 937h2v1h-2zM366 938h2v1h-2zM370 938h2v1h-2zM379 938h4v1h-4zM386 938h2v1h-2zM390 938h2v1h-2zM395 938h3v1h-3zM412 938h2v1h-2zM418 938h2v1h-2zM366 939h2v1h-2zM379 939h4v1h-4zM386 939h6v1h-6zM394 939h4v1h-4zM399 939h2v1h-2zM412 939h2v1h-2zM419 939h2v1h-2zM379 940h3v1h-3zM386 940h4v1h-4zM394 940h2v1h-2zM399 940h2v1h-2zM419 940h2v1h-2zM368 941h2v1h-2zM371 941h7v1h-7zM381 941h2v1h-2zM386 941h2v1h-2zM401 941h4v1h-4zM366 942h4v1h-4zM371 942h7v1h-7zM380 942h3v1h-3zM384 942h4v1h-4zM393 942h2v1h-2zM401 942h4v1h-4zM366 943h2v1h-2zM373 943h2v1h-2zM377 943h2v1h-2zM380 943h2v1h-2zM384 943h4v1h-4zM393 943h2v1h-2zM371 944h4v1h-4zM377 944h2v1h-2zM385 944h2v1h-2zM392 944h3v1h-3zM367 945h6v1h-6zM380 945h2v1h-2zM388 945h2v1h-2zM391 945h3v1h-3zM397 945h3v1h-3zM405 945h2v1h-2zM366 946h6v1h-6zM375 946h2v1h-2zM378 946h4v1h-4zM386 946h4v1h-4zM391 946h2v1h-2zM395 946h5v1h-5zM405 946h2v1h-2zM410 946h2v1h-2zM428 946h2v1h-2zM366 947h6v1h-6zM375 947h2v1h-2zM378 947h2v1h-2zM382 947h2v1h-2zM386 947h7v1h-7zM395 947h4v1h-4zM403 947h2v1h-2zM410 947h2v1h-2zM428 947h2v1h-2zM366 948h14v1h-14zM382 948h2v1h-2zM386 948h7v1h-7zM396 948h3v1h-3zM402 948h5v1h-5zM470 948h2v1h-2zM366 949h18v1h-18zM385 949h14v1h-14zM400 949h4v1h-4zM405 949h3v1h-3zM470 949h2v1h-2zM366 950h1v1h-1zM368 950h29v1h-29zM400 950h2v1h-2zM405 950h3v1h-3zM366 951h34v1h-34zM402 951h2v1h-2zM405 951h2v1h-2zM366 952h38v1h-38zM405 952h2v1h-2zM366 953h38v1h-38zM405 953h2v1h-2zM418 953h2v1h-2zM476 953h2v1h-2zM366 954h38v1h-38zM418 954h2v1h-2zM476 954h2v1h-2zM366 955h39v1h-39zM474 955h4v1h-4zM366 956h41v1h-41zM474 956h2v1h-2zM366 957h38v1h-38zM405 957h2v1h-2zM366 958h45v1h-45zM467 958h2v1h-2zM476 958h2v1h-2zM366 959h48v1h-48zM467 959h2v1h-2zM476 959h3v1h-3zM366 960h40v1h-40zM407 960h7v1h-7zM474 960h2v1h-2zM477 960h2v1h-2zM366 961h44v1h-44zM474 961h2v1h-2zM478 961h4v1h-4zM366 962h44v1h-44zM474 962h2v1h-2zM478 962h4v1h-4zM366 963h44v1h-44zM413 963h2v1h-2zM416 963h2v1h-2zM366 964h45v1h-45zM413 964h2v1h-2zM416 964h2v1h-2zM474 964h3v1h-3zM478 964h2v1h-2zM366 965h42v1h-42zM409 965h3v1h-3zM470 965h2v1h-2zM473 965h4v1h-4zM478 965h4v1h-4zM366 966h42v1h-42zM410 966h2v1h-2zM446 966h2v1h-2zM470 966h2v1h-2zM473 966h2v1h-2zM476 966h2v1h-2zM480 966h2v1h-2zM366 967h44v1h-44zM429 967h2v1h-2zM446 967h2v1h-2zM470 967h2v1h-2zM476 967h2v1h-2zM366 968h45v1h-45zM429 968h2v1h-2zM475 968h2v1h-2zM366 969h47v1h-47zM475 969h2v1h-2zM366 970h44v1h-44zM411 970h2v1h-2zM366 971h44v1h-44zM411 971h2v1h-2zM482 971h2v1h-2zM366 972h44v1h-44zM412 972h2v1h-2zM472 972h3v1h-3zM482 972h2v1h-2zM366 973h43v1h-43zM412 973h2v1h-2zM420 973h2v1h-2zM472 973h3v1h-3zM366 974h45v1h-45zM420 974h2v1h-2zM472 974h4v1h-4zM481 974h2v1h-2zM366 975h45v1h-45zM418 975h2v1h-2zM462 975h2v1h-2zM471 975h2v1h-2zM474 975h2v1h-2zM481 975h2v1h-2zM366 976h46v1h-46zM418 976h2v1h-2zM459 976h2v1h-2zM462 976h2v1h-2zM471 976h3v1h-3zM478 976h2v1h-2zM366 977h47v1h-47zM420 977h2v1h-2zM424 977h2v1h-2zM459 977h2v1h-2zM471 977h5v1h-5zM478 977h2v1h-2zM366 978h47v1h-47zM420 978h2v1h-2zM424 978h2v1h-2zM452 978h2v1h-2zM471 978h2v1h-2zM474 978h5v1h-5zM366 979h49v1h-49zM417 979h2v1h-2zM452 979h2v1h-2zM470 979h5v1h-5zM476 979h9v1h-9zM366 980h49v1h-49zM416 980h3v1h-3zM422 980h2v1h-2zM466 980h2v1h-2zM470 980h5v1h-5zM478 980h7v1h-7zM366 981h46v1h-46zM416 981h2v1h-2zM422 981h2v1h-2zM466 981h2v1h-2zM475 981h2v1h-2zM483 981h2v1h-2zM366 982h46v1h-46zM473 982h4v1h-4zM478 982h4v1h-4zM483 982h3v1h-3zM366 983h44v1h-44zM411 983h4v1h-4zM457 983h2v1h-2zM473 983h13v1h-13zM366 984h49v1h-49zM424 984h2v1h-2zM457 984h2v1h-2zM472 984h8v1h-8zM481 984h4v1h-4zM366 985h46v1h-46zM417 985h2v1h-2zM422 985h4v1h-4zM469 985h2v1h-2zM472 985h8v1h-8zM483 985h3v1h-3zM366 986h48v1h-48zM417 986h2v1h-2zM422 986h2v1h-2zM463 986h2v1h-2zM468 986h3v1h-3zM472 986h7v1h-7zM480 986h2v1h-2zM484 986h2v1h-2zM366 987h44v1h-44zM411 987h3v1h-3zM449 987h2v1h-2zM463 987h2v1h-2zM468 987h3v1h-3zM472 987h12v1h-12zM366 988h44v1h-44zM411 988h4v1h-4zM419 988h2v1h-2zM427 988h2v1h-2zM449 988h2v1h-2zM472 988h3v1h-3zM477 988h4v1h-4zM482 988h2v1h-2zM366 989h44v1h-44zM412 989h3v1h-3zM419 989h2v1h-2zM427 989h2v1h-2zM464 989h2v1h-2zM472 989h9v1h-9zM366 990h49v1h-49zM416 990h2v1h-2zM464 990h2v1h-2zM473 990h11v1h-11zM485 990h2v1h-2zM366 991h52v1h-52zM469 991h2v1h-2zM472 991h3v1h-3zM476 991h8v1h-8zM485 991h3v1h-3zM366 992h45v1h-45zM412 992h2v1h-2zM415 992h2v1h-2zM461 992h2v1h-2zM469 992h15v1h-15zM486 992h2v1h-2zM366 993h45v1h-45zM412 993h2v1h-2zM461 993h2v1h-2zM467 993h5v1h-5zM473 993h7v1h-7zM482 993h2v1h-2zM366 994h45v1h-45zM414 994h2v1h-2zM467 994h5v1h-5zM473 994h6v1h-6zM480 994h2v1h-2zM366 995h45v1h-45zM414 995h2v1h-2zM469 995h3v1h-3zM473 995h6v1h-6zM480 995h2v1h-2zM366 996h45v1h-45zM412 996h2v1h-2zM416 996h2v1h-2zM469 996h10v1h-10zM480 996h2v1h-2zM366 997h45v1h-45zM412 997h6v1h-6zM422 997h2v1h-2zM472 997h6v1h-6zM479 997h4v1h-4zM366 998h45v1h-45zM414 998h2v1h-2zM422 998h2v1h-2zM472 998h4v1h-4zM479 998h4v1h-4zM366 999h45v1h-45zM412 999h2v1h-2zM471 999h2v1h-2zM474 999h2v1h-2zM485 999h2v1h-2zM366 1000h44v1h-44zM412 1000h2v1h-2zM471 1000h2v1h-2zM474 1000h2v1h-2zM480 1000h2v1h-2zM485 1000h2v1h-2z" fill="#000"/>
<path d="M430.5 866.2V1001M365.6 941.3H508.6" stroke="#000" stroke-width="1.5" fill="none"/>
<rect x="365.6" y="866.2" width="143.0" height="134.8" fill="none" stroke="#000" stroke-width="1.8"/>
<path d="M365.6 1001V1007.5M359.1 1001.0H365.6M376.4 1001V1005.2M361.40000000000003 990.9H365.6M382.7 1001V1005.2M361.40000000000003 984.9H365.6M387.1 1001V1005.2M361.40000000000003 980.7H365.6M390.6 1001V1005.2M361.40000000000003 977.4H365.6M393.4 1001V1005.2M361.40000000000003 974.8H365.6M395.8 1001V1005.2M361.40000000000003 972.5H365.6M397.9 1001V1005.2M361.40000000000003 970.6H365.6M399.7 1001V1005.2M361.40000000000003 968.8H365.6M401.4 1001V1007.5M359.1 967.3H365.6M412.1 1001V1005.2M361.40000000000003 957.2H365.6M418.4 1001V1005.2M361.40000000000003 951.2H365.6M422.9 1001V1005.2M361.40000000000003 947.0H365.6M426.3 1001V1005.2M361.40000000000003 943.7H365.6M429.2 1001V1005.2M361.40000000000003 941.1H365.6M431.6 1001V1005.2M361.40000000000003 938.8H365.6M433.6 1001V1005.2M361.40000000000003 936.9H365.6M435.5 1001V1005.2M361.40000000000003 935.1H365.6M437.1 1001V1007.5M359.1 933.6H365.6M447.9 1001V1005.2M361.40000000000003 923.5H365.6M454.2 1001V1005.2M361.40000000000003 917.5H365.6M458.6 1001V1005.2M361.40000000000003 913.3H365.6M462.1 1001V1005.2M361.40000000000003 910.0H365.6M464.9 1001V1005.2M361.40000000000003 907.4H365.6M467.3 1001V1005.2M361.40000000000003 905.1H365.6M469.4 1001V1005.2M361.40000000000003 903.2H365.6M471.2 1001V1005.2M361.40000000000003 901.4H365.6M472.9 1001V1007.5M359.1 899.9H365.6M483.6 1001V1005.2M361.40000000000003 889.8H365.6M489.9 1001V1005.2M361.40000000000003 883.8H365.6M494.4 1001V1005.2M361.40000000000003 879.6H365.6M497.8 1001V1005.2M361.40000000000003 876.3H365.6M500.7 1001V1005.2M361.40000000000003 873.7H365.6M503.1 1001V1005.2M361.40000000000003 871.4H365.6M505.1 1001V1005.2M361.40000000000003 869.5H365.6M507.0 1001V1005.2M361.40000000000003 867.7H365.6M508.6 1001V1007.5M359.1 866.2H365.6" stroke="#000" stroke-width="1.5" fill="none"/>
<text x="370.6" y="1024.5" font-family="Liberation Sans" font-size="13.6" text-anchor="end" stroke="#000" stroke-width="0.5">10</text>
<text x="372.4" y="1016.3" font-family="Liberation Sans" font-size="12.5" stroke="#000" stroke-width="0.5">0</text>
<text x="406.4" y="1024.5" font-family="Liberation Sans" font-size="13.6" text-anchor="end" stroke="#000" stroke-width="0.5">10</text>
<text x="408.2" y="1016.3" font-family="Liberation Sans" font-size="12.5" stroke="#000" stroke-width="0.5">1</text>
<text x="442.1" y="1024.5" font-family="Liberation Sans" font-size="13.6" text-anchor="end" stroke="#000" stroke-width="0.5">10</text>
<text x="443.9" y="1016.3" font-family="Liberation Sans" font-size="12.5" stroke="#000" stroke-width="0.5">2</text>
<text x="477.9" y="1024.5" font-family="Liberation Sans" font-size="13.6" text-anchor="end" stroke="#000" stroke-width="0.5">10</text>
<text x="479.7" y="1016.3" font-family="Liberation Sans" font-size="12.5" stroke="#000" stroke-width="0.5">3</text>
<text x="513.6" y="1024.5" font-family="Liberation Sans" font-size="13.6" text-anchor="end" stroke="#000" stroke-width="0.5">10</text>
<text x="515.4" y="1016.3" font-family="Liberation Sans" font-size="12.5" stroke="#000" stroke-width="0.5">4</text>
<text transform="translate(352.1 999.0) rotate(-90)" font-family="Liberation Sans" font-size="13.6" text-anchor="end" stroke="#000" stroke-width="0.5">10</text>
<text transform="translate(344.3 997.3) rotate(-90)" font-family="Liberation Sans" font-size="13" stroke="#000" stroke-width="0.5">0</text>
<text transform="translate(352.1 965.3) rotate(-90)" font-family="Liberation Sans" font-size="13.6" text-anchor="end" stroke="#000" stroke-width="0.5">10</text>
<text transform="translate(344.3 963.6) rotate(-90)" font-family="Liberation Sans" font-size="13" stroke="#000" stroke-width="0.5">1</text>
<text transform="translate(352.1 931.6) rotate(-90)" font-family="Liberation Sans" font-size="13.6" text-anchor="end" stroke="#000" stroke-width="0.5">10</text>
<text transform="translate(344.3 929.9) rotate(-90)" font-family="Liberation Sans" font-size="13" stroke="#000" stroke-width="0.5">2</text>
<text transform="translate(352.1 897.9) rotate(-90)" font-family="Liberation Sans" font-size="13.6" text-anchor="end" stroke="#000" stroke-width="0.5">10</text>
<text transform="translate(344.3 896.2) rotate(-90)" font-family="Liberation Sans" font-size="13" stroke="#000" stroke-width="0.5">3</text>
<text transform="translate(352.1 864.2) rotate(-90)" font-family="Liberation Sans" font-size="13.6" text-anchor="end" stroke="#000" stroke-width="0.5">10</text>
<text transform="translate(344.3 862.5) rotate(-90)" font-family="Liberation Sans" font-size="13" stroke="#000" stroke-width="0.5">4</text>
<text transform="translate(306.8 962.3) rotate(-90)" font-family="Liberation Serif" font-size="19.2" font-weight="bold">CD56</text>
<text transform="translate(395.8 1058.6) scale(1.0 1.03)" font-family="Liberation Serif" font-size="19.2" font-weight="bold" text-anchor="start" >KIR p70</text>
</g>
</svg></body></html>
